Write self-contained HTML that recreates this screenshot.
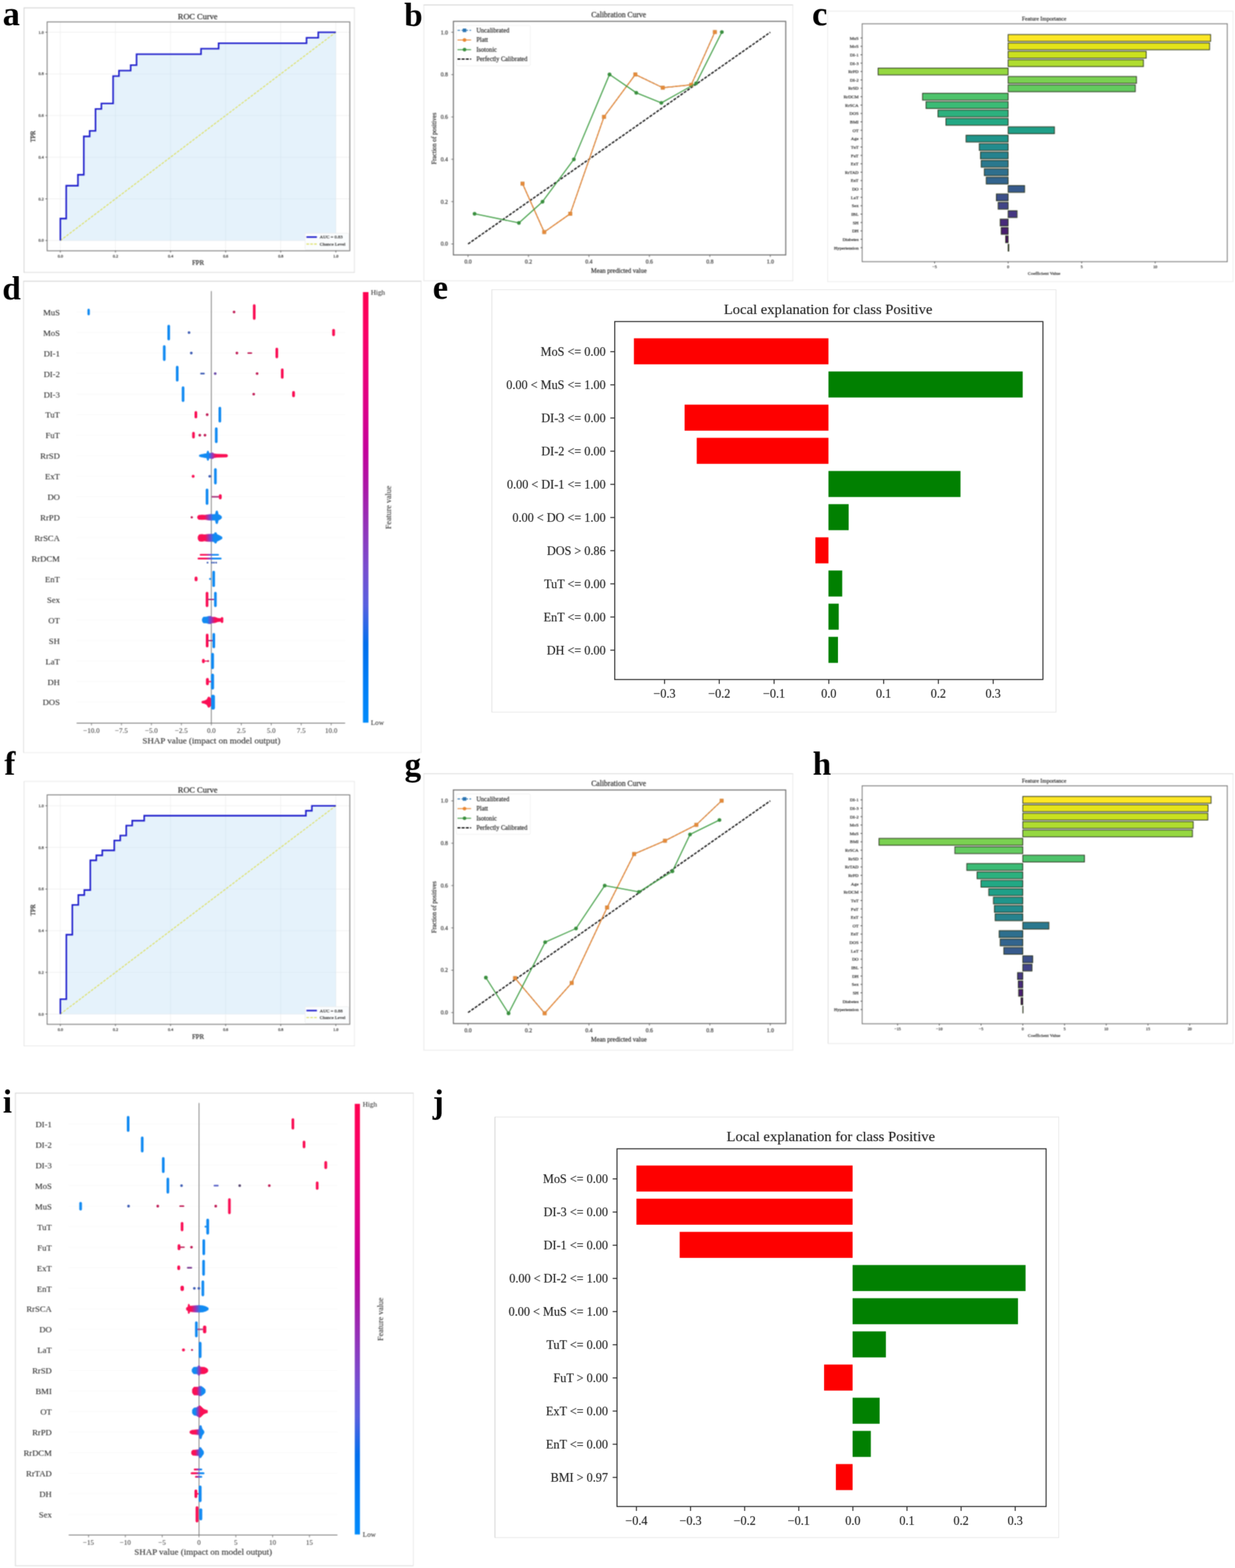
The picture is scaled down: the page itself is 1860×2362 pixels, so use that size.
<!DOCTYPE html>
<html lang="en"><head><meta charset="utf-8"><title>Figure</title>
<style>
html,body{margin:0;padding:0;background:#fff;}
body{width:1860px;height:2362px;overflow:hidden;}
svg{display:block;font-family:"Liberation Serif","DejaVu Serif",serif;}
.h text{paint-order:stroke;stroke-linejoin:round;}
.h1 text{stroke:#444;stroke-opacity:.45;stroke-width:.55px;}
.h3 text{stroke:#555;stroke-opacity:.35;stroke-width:.25px;}
.h2 text{stroke:#222;stroke-opacity:.35;stroke-width:.5px;}
</style></head><body>
<svg width="1860" height="2362" viewBox="0 0 1860 2362">
<defs>
<linearGradient id="cb" x1="0" y1="0" x2="0" y2="1">
<stop offset="0.000" stop-color="#ff0051"/> <stop offset="0.091" stop-color="#fa0065"/> <stop offset="0.182" stop-color="#ec0078"/> <stop offset="0.273" stop-color="#db008a"/> <stop offset="0.364" stop-color="#c5009a"/> <stop offset="0.455" stop-color="#aa17a7"/> <stop offset="0.545" stop-color="#9233b9"/> <stop offset="0.636" stop-color="#794cce"/> <stop offset="0.727" stop-color="#575fdf"/> <stop offset="0.818" stop-color="#006fed"/> <stop offset="0.909" stop-color="#007ef6"/> <stop offset="1.000" stop-color="#008bfb"/>
</linearGradient>
<linearGradient id="br" x1="0" y1="0" x2="1" y2="0"><stop offset="0" stop-color="#118af2"/><stop offset="0.38" stop-color="#118af2"/><stop offset="0.52" stop-color="#9233b9"/><stop offset="0.66" stop-color="#fa0f55"/><stop offset="1" stop-color="#fa0f55"/></linearGradient>
<linearGradient id="rb" x1="0" y1="0" x2="1" y2="0"><stop offset="0" stop-color="#fa0f55"/><stop offset="0.38" stop-color="#fa0f55"/><stop offset="0.52" stop-color="#9233b9"/><stop offset="0.66" stop-color="#118af2"/><stop offset="1" stop-color="#118af2"/></linearGradient>
<linearGradient id="rr" x1="0" y1="0" x2="1" y2="0"><stop offset="0" stop-color="#fa0f55"/><stop offset="1" stop-color="#fa0f55"/></linearGradient>
<filter id="cv" filterUnits="userSpaceOnUse" x="0" y="0" width="1860" height="2362" color-interpolation-filters="sRGB"><feConvolveMatrix order="3" kernelMatrix="1 2 1 2 4 2 1 2 1" divisor="16" edgeMode="duplicate" preserveAlpha="true"/></filter>
<filter id="cl" filterUnits="userSpaceOnUse" x="0" y="0" width="1860" height="2362" color-interpolation-filters="sRGB"><feConvolveMatrix order="3" kernelMatrix="0 1 0 1 6 1 0 1 0" divisor="10" edgeMode="duplicate" preserveAlpha="false"/></filter>
</defs>
<rect x="0" y="0" width="1860" height="2362" fill="#ffffff"/>
<g filter="url(#cv)"><rect x="0" y="0" width="1860" height="2362" fill="#ffffff"/>
<g class="h h1">
<rect x="36.2" y="11.9" width="497.6" height="398.4" fill="#fff" stroke="none" stroke-width="1" />
<line x1="35.7" y1="11.9" x2="534.3" y2="11.9" stroke="#c4c4c4" stroke-width="1" />
<line x1="35.7" y1="410.3" x2="534.3" y2="410.3" stroke="#d6d6d6" stroke-width="1" />
<line x1="36.2" y1="11.9" x2="36.2" y2="410.3" stroke="#c8c8c8" stroke-width="1" />
<line x1="533.8" y1="11.9" x2="533.8" y2="410.3" stroke="#dddddd" stroke-width="1" />
<line x1="90.9" y1="33" x2="90.9" y2="377.8" stroke="#efefef" stroke-width="1" />
<line x1="71" y1="362.3" x2="526.8" y2="362.3" stroke="#efefef" stroke-width="1" />
<line x1="173.88" y1="33" x2="173.88" y2="377.8" stroke="#efefef" stroke-width="1" />
<line x1="71" y1="299.56" x2="526.8" y2="299.56" stroke="#efefef" stroke-width="1" />
<line x1="256.86" y1="33" x2="256.86" y2="377.8" stroke="#efefef" stroke-width="1" />
<line x1="71" y1="236.82" x2="526.8" y2="236.82" stroke="#efefef" stroke-width="1" />
<line x1="339.84" y1="33" x2="339.84" y2="377.8" stroke="#efefef" stroke-width="1" />
<line x1="71" y1="174.08" x2="526.8" y2="174.08" stroke="#efefef" stroke-width="1" />
<line x1="422.82" y1="33" x2="422.82" y2="377.8" stroke="#efefef" stroke-width="1" />
<line x1="71" y1="111.34" x2="526.8" y2="111.34" stroke="#efefef" stroke-width="1" />
<line x1="505.8" y1="33" x2="505.8" y2="377.8" stroke="#efefef" stroke-width="1" />
<line x1="71" y1="48.6" x2="526.8" y2="48.6" stroke="#efefef" stroke-width="1" />
<clipPath id="cp_a"><polygon points="90.9,362.3 90.9,329.28 99.73,329.28 99.73,279.75 117.38,279.75 117.38,263.24 126.21,263.24 126.21,205.45 135.04,205.45 135.04,197.19 143.87,197.19 143.87,164.17 152.69,164.17 152.69,155.92 170.35,155.92 170.35,114.64 179.18,114.64 179.18,106.39 196.83,106.39 196.83,98.13 205.66,98.13 205.66,81.62 302.76,81.62 302.76,73.37 329.25,73.37 329.25,65.11 461.66,65.11 461.66,56.86 479.32,56.86 479.32,48.6 505.8,48.6 505.8,362.3 90.9,362.3"/></clipPath>
<polygon points="90.9,362.3 90.9,329.28 99.73,329.28 99.73,279.75 117.38,279.75 117.38,263.24 126.21,263.24 126.21,205.45 135.04,205.45 135.04,197.19 143.87,197.19 143.87,164.17 152.69,164.17 152.69,155.92 170.35,155.92 170.35,114.64 179.18,114.64 179.18,106.39 196.83,106.39 196.83,98.13 205.66,98.13 205.66,81.62 302.76,81.62 302.76,73.37 329.25,73.37 329.25,65.11 461.66,65.11 461.66,56.86 479.32,56.86 479.32,48.6 505.8,48.6 505.8,362.3 90.9,362.3" fill="#e5f2fb"/>
<g clip-path="url(#cp_a)">
<line x1="90.9" y1="362.3" x2="90.9" y2="48.6" stroke="#d6e5ef" stroke-width="1" opacity="0.75"/>
<line x1="90.9" y1="362.3" x2="505.8" y2="362.3" stroke="#d6e5ef" stroke-width="1" opacity="0.6"/>
<line x1="173.88" y1="362.3" x2="173.88" y2="48.6" stroke="#d6e5ef" stroke-width="1" opacity="0.75"/>
<line x1="90.9" y1="299.56" x2="505.8" y2="299.56" stroke="#d6e5ef" stroke-width="1" opacity="0.6"/>
<line x1="256.86" y1="362.3" x2="256.86" y2="48.6" stroke="#d6e5ef" stroke-width="1" opacity="0.75"/>
<line x1="90.9" y1="236.82" x2="505.8" y2="236.82" stroke="#d6e5ef" stroke-width="1" opacity="0.6"/>
<line x1="339.84" y1="362.3" x2="339.84" y2="48.6" stroke="#d6e5ef" stroke-width="1" opacity="0.75"/>
<line x1="90.9" y1="174.08" x2="505.8" y2="174.08" stroke="#d6e5ef" stroke-width="1" opacity="0.6"/>
<line x1="422.82" y1="362.3" x2="422.82" y2="48.6" stroke="#d6e5ef" stroke-width="1" opacity="0.75"/>
<line x1="90.9" y1="111.34" x2="505.8" y2="111.34" stroke="#d6e5ef" stroke-width="1" opacity="0.6"/>
<line x1="505.8" y1="362.3" x2="505.8" y2="48.6" stroke="#d6e5ef" stroke-width="1" opacity="0.75"/>
<line x1="90.9" y1="48.6" x2="505.8" y2="48.6" stroke="#d6e5ef" stroke-width="1" opacity="0.6"/>
</g>
<line x1="90.9" y1="362.3" x2="505.8" y2="48.6" stroke="#dde068" stroke-width="1.55" stroke-dasharray="4 1.8"/>
<polyline points="90.9,362.3 90.9,329.28 99.73,329.28 99.73,279.75 117.38,279.75 117.38,263.24 126.21,263.24 126.21,205.45 135.04,205.45 135.04,197.19 143.87,197.19 143.87,164.17 152.69,164.17 152.69,155.92 170.35,155.92 170.35,114.64 179.18,114.64 179.18,106.39 196.83,106.39 196.83,98.13 205.66,98.13 205.66,81.62 302.76,81.62 302.76,73.37 329.25,73.37 329.25,65.11 461.66,65.11 461.66,56.86 479.32,56.86 479.32,48.6 505.8,48.6" fill="none" stroke="#2020cc" stroke-width="2.35" stroke-linejoin="miter"/>
<rect x="71" y="33" width="455.8" height="344.8" fill="none" stroke="#747474" stroke-width="1.25" />
<line x1="90.9" y1="377.8" x2="90.9" y2="380.4" stroke="#555" stroke-width="1" />
<line x1="68.4" y1="362.3" x2="71" y2="362.3" stroke="#555" stroke-width="1" />
<text x="90.9" y="387.7" font-size="6.3" text-anchor="middle" fill="#303030" >0.0</text>
<text x="65.8" y="364.4" font-size="6.3" text-anchor="end" fill="#303030" >0.0</text>
<line x1="173.88" y1="377.8" x2="173.88" y2="380.4" stroke="#555" stroke-width="1" />
<line x1="68.4" y1="299.56" x2="71" y2="299.56" stroke="#555" stroke-width="1" />
<text x="173.88" y="387.7" font-size="6.3" text-anchor="middle" fill="#303030" >0.2</text>
<text x="65.8" y="301.66" font-size="6.3" text-anchor="end" fill="#303030" >0.2</text>
<line x1="256.86" y1="377.8" x2="256.86" y2="380.4" stroke="#555" stroke-width="1" />
<line x1="68.4" y1="236.82" x2="71" y2="236.82" stroke="#555" stroke-width="1" />
<text x="256.86" y="387.7" font-size="6.3" text-anchor="middle" fill="#303030" >0.4</text>
<text x="65.8" y="238.92" font-size="6.3" text-anchor="end" fill="#303030" >0.4</text>
<line x1="339.84" y1="377.8" x2="339.84" y2="380.4" stroke="#555" stroke-width="1" />
<line x1="68.4" y1="174.08" x2="71" y2="174.08" stroke="#555" stroke-width="1" />
<text x="339.84" y="387.7" font-size="6.3" text-anchor="middle" fill="#303030" >0.6</text>
<text x="65.8" y="176.18" font-size="6.3" text-anchor="end" fill="#303030" >0.6</text>
<line x1="422.82" y1="377.8" x2="422.82" y2="380.4" stroke="#555" stroke-width="1" />
<line x1="68.4" y1="111.34" x2="71" y2="111.34" stroke="#555" stroke-width="1" />
<text x="422.82" y="387.7" font-size="6.3" text-anchor="middle" fill="#303030" >0.8</text>
<text x="65.8" y="113.44" font-size="6.3" text-anchor="end" fill="#303030" >0.8</text>
<line x1="505.8" y1="377.8" x2="505.8" y2="380.4" stroke="#555" stroke-width="1" />
<line x1="68.4" y1="48.6" x2="71" y2="48.6" stroke="#555" stroke-width="1" />
<text x="505.8" y="387.7" font-size="6.3" text-anchor="middle" fill="#303030" >1.0</text>
<text x="65.8" y="50.7" font-size="6.3" text-anchor="end" fill="#303030" >1.0</text>
<text x="297.7" y="28.9" font-size="12.6" text-anchor="middle" fill="#262626" >ROC Curve</text>
<text x="298.2" y="399.3" font-size="10.2" text-anchor="middle" fill="#222" >FPR</text>
<text x="0" y="0" font-size="9.54" text-anchor="middle" fill="#222" transform="translate(52.75 205.6) rotate(-90)">TPR</text>
<rect x="459.5" y="351.3" width="65.7" height="24.9" fill="#fbfdfe" stroke="#ebebeb" stroke-width="0.8" rx="1.5"/>
<line x1="461.5" y1="357.1" x2="477.3" y2="357.1" stroke="#2020cc" stroke-width="2.35" />
<line x1="461.5" y1="367.6" x2="477.3" y2="367.6" stroke="#dde068" stroke-width="1.55" stroke-dasharray="4 1.8"/>
<text x="481.6" y="359.4" font-size="7" text-anchor="start" fill="#303030" >AUC = 0.83</text>
<text x="481.6" y="369.9" font-size="7" text-anchor="start" fill="#303030" >Chance Level</text>
</g>
<g class="h h1">
<rect x="36.2" y="1177.1" width="497.6" height="398.4" fill="#fff" stroke="none" stroke-width="1" />
<line x1="35.7" y1="1177.1" x2="534.3" y2="1177.1" stroke="#e5e5e5" stroke-width="1" />
<line x1="35.7" y1="1575.5" x2="534.3" y2="1575.5" stroke="#e5e5e5" stroke-width="1" />
<line x1="36.2" y1="1177.1" x2="36.2" y2="1575.5" stroke="#dddddd" stroke-width="1" />
<line x1="533.8" y1="1177.1" x2="533.8" y2="1575.5" stroke="#e5e5e5" stroke-width="1" />
<line x1="90.9" y1="1197.4" x2="90.9" y2="1543" stroke="#efefef" stroke-width="1" />
<line x1="71" y1="1527.5" x2="526.8" y2="1527.5" stroke="#efefef" stroke-width="1" />
<line x1="173.88" y1="1197.4" x2="173.88" y2="1543" stroke="#efefef" stroke-width="1" />
<line x1="71" y1="1464.76" x2="526.8" y2="1464.76" stroke="#efefef" stroke-width="1" />
<line x1="256.86" y1="1197.4" x2="256.86" y2="1543" stroke="#efefef" stroke-width="1" />
<line x1="71" y1="1402.02" x2="526.8" y2="1402.02" stroke="#efefef" stroke-width="1" />
<line x1="339.84" y1="1197.4" x2="339.84" y2="1543" stroke="#efefef" stroke-width="1" />
<line x1="71" y1="1339.28" x2="526.8" y2="1339.28" stroke="#efefef" stroke-width="1" />
<line x1="422.82" y1="1197.4" x2="422.82" y2="1543" stroke="#efefef" stroke-width="1" />
<line x1="71" y1="1276.54" x2="526.8" y2="1276.54" stroke="#efefef" stroke-width="1" />
<line x1="505.8" y1="1197.4" x2="505.8" y2="1543" stroke="#efefef" stroke-width="1" />
<line x1="71" y1="1213.8" x2="526.8" y2="1213.8" stroke="#efefef" stroke-width="1" />
<clipPath id="cp_f"><polygon points="90.9,1527.5 90.9,1505.09 99.92,1505.09 99.92,1408 108.94,1408 108.94,1363.18 117.96,1363.18 117.96,1348.24 126.98,1348.24 126.98,1340.77 136,1340.77 136,1295.96 145.02,1295.96 145.02,1288.49 154.04,1288.49 154.04,1281.02 172.08,1281.02 172.08,1266.08 181.1,1266.08 181.1,1258.61 190.12,1258.61 190.12,1243.68 199.13,1243.68 199.13,1236.21 217.17,1236.21 217.17,1228.74 460.7,1228.74 460.7,1221.27 469.72,1221.27 469.72,1213.8 505.8,1213.8 505.8,1527.5 90.9,1527.5"/></clipPath>
<polygon points="90.9,1527.5 90.9,1505.09 99.92,1505.09 99.92,1408 108.94,1408 108.94,1363.18 117.96,1363.18 117.96,1348.24 126.98,1348.24 126.98,1340.77 136,1340.77 136,1295.96 145.02,1295.96 145.02,1288.49 154.04,1288.49 154.04,1281.02 172.08,1281.02 172.08,1266.08 181.1,1266.08 181.1,1258.61 190.12,1258.61 190.12,1243.68 199.13,1243.68 199.13,1236.21 217.17,1236.21 217.17,1228.74 460.7,1228.74 460.7,1221.27 469.72,1221.27 469.72,1213.8 505.8,1213.8 505.8,1527.5 90.9,1527.5" fill="#e5f2fb"/>
<g clip-path="url(#cp_f)">
<line x1="90.9" y1="1527.5" x2="90.9" y2="1213.8" stroke="#d6e5ef" stroke-width="1" opacity="0.75"/>
<line x1="90.9" y1="1527.5" x2="505.8" y2="1527.5" stroke="#d6e5ef" stroke-width="1" opacity="0.6"/>
<line x1="173.88" y1="1527.5" x2="173.88" y2="1213.8" stroke="#d6e5ef" stroke-width="1" opacity="0.75"/>
<line x1="90.9" y1="1464.76" x2="505.8" y2="1464.76" stroke="#d6e5ef" stroke-width="1" opacity="0.6"/>
<line x1="256.86" y1="1527.5" x2="256.86" y2="1213.8" stroke="#d6e5ef" stroke-width="1" opacity="0.75"/>
<line x1="90.9" y1="1402.02" x2="505.8" y2="1402.02" stroke="#d6e5ef" stroke-width="1" opacity="0.6"/>
<line x1="339.84" y1="1527.5" x2="339.84" y2="1213.8" stroke="#d6e5ef" stroke-width="1" opacity="0.75"/>
<line x1="90.9" y1="1339.28" x2="505.8" y2="1339.28" stroke="#d6e5ef" stroke-width="1" opacity="0.6"/>
<line x1="422.82" y1="1527.5" x2="422.82" y2="1213.8" stroke="#d6e5ef" stroke-width="1" opacity="0.75"/>
<line x1="90.9" y1="1276.54" x2="505.8" y2="1276.54" stroke="#d6e5ef" stroke-width="1" opacity="0.6"/>
<line x1="505.8" y1="1527.5" x2="505.8" y2="1213.8" stroke="#d6e5ef" stroke-width="1" opacity="0.75"/>
<line x1="90.9" y1="1213.8" x2="505.8" y2="1213.8" stroke="#d6e5ef" stroke-width="1" opacity="0.6"/>
</g>
<line x1="90.9" y1="1527.5" x2="505.8" y2="1213.8" stroke="#dde068" stroke-width="1.55" stroke-dasharray="4 1.8"/>
<polyline points="90.9,1527.5 90.9,1505.09 99.92,1505.09 99.92,1408 108.94,1408 108.94,1363.18 117.96,1363.18 117.96,1348.24 126.98,1348.24 126.98,1340.77 136,1340.77 136,1295.96 145.02,1295.96 145.02,1288.49 154.04,1288.49 154.04,1281.02 172.08,1281.02 172.08,1266.08 181.1,1266.08 181.1,1258.61 190.12,1258.61 190.12,1243.68 199.13,1243.68 199.13,1236.21 217.17,1236.21 217.17,1228.74 460.7,1228.74 460.7,1221.27 469.72,1221.27 469.72,1213.8 505.8,1213.8" fill="none" stroke="#2020cc" stroke-width="2.35" stroke-linejoin="miter"/>
<rect x="71" y="1197.4" width="455.8" height="345.6" fill="none" stroke="#747474" stroke-width="1.25" />
<line x1="90.9" y1="1543" x2="90.9" y2="1545.6" stroke="#555" stroke-width="1" />
<line x1="68.4" y1="1527.5" x2="71" y2="1527.5" stroke="#555" stroke-width="1" />
<text x="90.9" y="1552.9" font-size="6.3" text-anchor="middle" fill="#303030" >0.0</text>
<text x="65.8" y="1529.6" font-size="6.3" text-anchor="end" fill="#303030" >0.0</text>
<line x1="173.88" y1="1543" x2="173.88" y2="1545.6" stroke="#555" stroke-width="1" />
<line x1="68.4" y1="1464.76" x2="71" y2="1464.76" stroke="#555" stroke-width="1" />
<text x="173.88" y="1552.9" font-size="6.3" text-anchor="middle" fill="#303030" >0.2</text>
<text x="65.8" y="1466.86" font-size="6.3" text-anchor="end" fill="#303030" >0.2</text>
<line x1="256.86" y1="1543" x2="256.86" y2="1545.6" stroke="#555" stroke-width="1" />
<line x1="68.4" y1="1402.02" x2="71" y2="1402.02" stroke="#555" stroke-width="1" />
<text x="256.86" y="1552.9" font-size="6.3" text-anchor="middle" fill="#303030" >0.4</text>
<text x="65.8" y="1404.12" font-size="6.3" text-anchor="end" fill="#303030" >0.4</text>
<line x1="339.84" y1="1543" x2="339.84" y2="1545.6" stroke="#555" stroke-width="1" />
<line x1="68.4" y1="1339.28" x2="71" y2="1339.28" stroke="#555" stroke-width="1" />
<text x="339.84" y="1552.9" font-size="6.3" text-anchor="middle" fill="#303030" >0.6</text>
<text x="65.8" y="1341.38" font-size="6.3" text-anchor="end" fill="#303030" >0.6</text>
<line x1="422.82" y1="1543" x2="422.82" y2="1545.6" stroke="#555" stroke-width="1" />
<line x1="68.4" y1="1276.54" x2="71" y2="1276.54" stroke="#555" stroke-width="1" />
<text x="422.82" y="1552.9" font-size="6.3" text-anchor="middle" fill="#303030" >0.8</text>
<text x="65.8" y="1278.64" font-size="6.3" text-anchor="end" fill="#303030" >0.8</text>
<line x1="505.8" y1="1543" x2="505.8" y2="1545.6" stroke="#555" stroke-width="1" />
<line x1="68.4" y1="1213.8" x2="71" y2="1213.8" stroke="#555" stroke-width="1" />
<text x="505.8" y="1552.9" font-size="6.3" text-anchor="middle" fill="#303030" >1.0</text>
<text x="65.8" y="1215.9" font-size="6.3" text-anchor="end" fill="#303030" >1.0</text>
<text x="297.7" y="1194.1" font-size="12.6" text-anchor="middle" fill="#262626" >ROC Curve</text>
<text x="298.2" y="1564.5" font-size="10.2" text-anchor="middle" fill="#222" >FPR</text>
<text x="0" y="0" font-size="9.54" text-anchor="middle" fill="#222" transform="translate(52.75 1370.8) rotate(-90)">TPR</text>
<rect x="459.5" y="1516.5" width="65.7" height="24.9" fill="#fbfdfe" stroke="#ebebeb" stroke-width="0.8" rx="1.5"/>
<line x1="461.5" y1="1522.3" x2="477.3" y2="1522.3" stroke="#2020cc" stroke-width="2.35" />
<line x1="461.5" y1="1532.8" x2="477.3" y2="1532.8" stroke="#dde068" stroke-width="1.55" stroke-dasharray="4 1.8"/>
<text x="481.6" y="1524.6" font-size="7" text-anchor="start" fill="#303030" >AUC = 0.88</text>
<text x="481.6" y="1535.1" font-size="7" text-anchor="start" fill="#303030" >Chance Level</text>
</g>
<g class="h h1">
<rect x="638.3" y="7.4" width="555.7" height="415.6" fill="#fff" stroke="none" stroke-width="1" />
<line x1="637.8" y1="7.4" x2="1194.5" y2="7.4" stroke="#c5c5c5" stroke-width="1" />
<line x1="637.8" y1="423" x2="1194.5" y2="423" stroke="#e3e3e3" stroke-width="1" />
<line x1="638.3" y1="7.4" x2="638.3" y2="423" stroke="#e3e3e3" stroke-width="1" />
<line x1="1194" y1="7.4" x2="1194" y2="423" stroke="#e3e3e3" stroke-width="1" />
<rect x="682.8" y="32.2" width="500.6" height="351.8" fill="#fff" stroke="#6c6c6c" stroke-width="1.5" />
<line x1="704.9" y1="384" x2="704.9" y2="387.2" stroke="#555" stroke-width="0.9" />
<line x1="679.6" y1="367.5" x2="682.8" y2="367.5" stroke="#555" stroke-width="0.9" />
<text x="704.9" y="396.8" font-size="8.7" text-anchor="middle" fill="#333" >0.0</text>
<text x="674.6" y="370.4" font-size="8.7" text-anchor="end" fill="#333" >0.0</text>
<line x1="795.94" y1="384" x2="795.94" y2="387.2" stroke="#555" stroke-width="0.9" />
<line x1="679.6" y1="303.72" x2="682.8" y2="303.72" stroke="#555" stroke-width="0.9" />
<text x="795.94" y="396.8" font-size="8.7" text-anchor="middle" fill="#333" >0.2</text>
<text x="674.6" y="306.62" font-size="8.7" text-anchor="end" fill="#333" >0.2</text>
<line x1="886.98" y1="384" x2="886.98" y2="387.2" stroke="#555" stroke-width="0.9" />
<line x1="679.6" y1="239.94" x2="682.8" y2="239.94" stroke="#555" stroke-width="0.9" />
<text x="886.98" y="396.8" font-size="8.7" text-anchor="middle" fill="#333" >0.4</text>
<text x="674.6" y="242.84" font-size="8.7" text-anchor="end" fill="#333" >0.4</text>
<line x1="978.02" y1="384" x2="978.02" y2="387.2" stroke="#555" stroke-width="0.9" />
<line x1="679.6" y1="176.16" x2="682.8" y2="176.16" stroke="#555" stroke-width="0.9" />
<text x="978.02" y="396.8" font-size="8.7" text-anchor="middle" fill="#333" >0.6</text>
<text x="674.6" y="179.06" font-size="8.7" text-anchor="end" fill="#333" >0.6</text>
<line x1="1069.06" y1="384" x2="1069.06" y2="387.2" stroke="#555" stroke-width="0.9" />
<line x1="679.6" y1="112.38" x2="682.8" y2="112.38" stroke="#555" stroke-width="0.9" />
<text x="1069.06" y="396.8" font-size="8.7" text-anchor="middle" fill="#333" >0.8</text>
<text x="674.6" y="115.28" font-size="8.7" text-anchor="end" fill="#333" >0.8</text>
<line x1="1160.1" y1="384" x2="1160.1" y2="387.2" stroke="#555" stroke-width="0.9" />
<line x1="679.6" y1="48.6" x2="682.8" y2="48.6" stroke="#555" stroke-width="0.9" />
<text x="1160.1" y="396.8" font-size="8.7" text-anchor="middle" fill="#333" >1.0</text>
<text x="674.6" y="51.5" font-size="8.7" text-anchor="end" fill="#333" >1.0</text>
<line x1="704.9" y1="367.5" x2="1160.1" y2="48.6" stroke="#1a1a1a" stroke-width="2" stroke-dasharray="4.4 1.9"/>
<polyline points="786.95,276.61 819.62,349.57 858.82,321.98 909.64,176.06 956.83,112.17 998.21,132.13 1041.05,127.78 1076.62,48.28" fill="none" stroke="#2a74b2" stroke-width="1.3" stroke-dasharray="4 2"/>
<polyline points="786.95,276.61 819.62,349.57 858.82,321.98 909.64,176.06 956.83,112.17 998.21,132.13 1041.05,127.78 1076.62,48.28" fill="none" stroke="#ea8630" stroke-width="1.6" stroke-linejoin="round"/>
<rect x="783.95" y="273.61" width="6" height="6" fill="#cf8d48" stroke="none" stroke-width="1" />
<circle cx="786.95" cy="276.61" r="2.7" fill="#e58a3a" />
<rect x="816.62" y="346.57" width="6" height="6" fill="#cf8d48" stroke="none" stroke-width="1" />
<circle cx="819.62" cy="349.57" r="2.7" fill="#e58a3a" />
<rect x="855.82" y="318.98" width="6" height="6" fill="#cf8d48" stroke="none" stroke-width="1" />
<circle cx="858.82" cy="321.98" r="2.7" fill="#e58a3a" />
<rect x="906.64" y="173.06" width="6" height="6" fill="#cf8d48" stroke="none" stroke-width="1" />
<circle cx="909.64" cy="176.06" r="2.7" fill="#e58a3a" />
<rect x="953.83" y="109.17" width="6" height="6" fill="#cf8d48" stroke="none" stroke-width="1" />
<circle cx="956.83" cy="112.17" r="2.7" fill="#e58a3a" />
<rect x="995.21" y="129.13" width="6" height="6" fill="#cf8d48" stroke="none" stroke-width="1" />
<circle cx="998.21" cy="132.13" r="2.7" fill="#e58a3a" />
<rect x="1038.05" y="124.78" width="6" height="6" fill="#cf8d48" stroke="none" stroke-width="1" />
<circle cx="1041.05" cy="127.78" r="2.7" fill="#e58a3a" />
<rect x="1073.62" y="45.28" width="6" height="6" fill="#cf8d48" stroke="none" stroke-width="1" />
<circle cx="1076.62" cy="48.28" r="2.7" fill="#e58a3a" />
<polyline points="714.71,321.98 781.5,335.78 817.08,303.83 864.27,239.94 917.99,112.17 958.28,139.76 996.04,155 1048.31,125.6 1087.15,48.28" fill="none" stroke="#3c9c40" stroke-width="1.6" stroke-linejoin="round"/>
<circle cx="714.71" cy="321.98" r="2.8" fill="#3a8f3f" />
<circle cx="781.5" cy="335.78" r="2.8" fill="#3a8f3f" />
<circle cx="817.08" cy="303.83" r="2.8" fill="#3a8f3f" />
<circle cx="864.27" cy="239.94" r="2.8" fill="#3a8f3f" />
<circle cx="917.99" cy="112.17" r="2.8" fill="#3a8f3f" />
<circle cx="958.28" cy="139.76" r="2.8" fill="#3a8f3f" />
<circle cx="996.04" cy="155" r="2.8" fill="#3a8f3f" />
<circle cx="1048.31" cy="125.6" r="2.8" fill="#3a8f3f" />
<circle cx="1087.15" cy="48.28" r="2.8" fill="#3a8f3f" />
<rect x="687.1" y="38.3" width="111.7" height="60.7" fill="#fff" stroke="#eeeeee" stroke-width="0.9" rx="2"/>
<line x1="689" y1="45.7" x2="709.5" y2="45.7" stroke="#2a74b2" stroke-width="1.3" stroke-dasharray="4 2"/>
<rect x="696.9" y="43" width="5.4" height="5.4" fill="#2a74b2" stroke="none" stroke-width="1" />
<line x1="689" y1="60.3" x2="709.5" y2="60.3" stroke="#ea8630" stroke-width="1.4" />
<circle cx="699.6" cy="60.3" r="2.7" fill="#ea8630" />
<line x1="689" y1="74.8" x2="709.5" y2="74.8" stroke="#3c9c40" stroke-width="1.4" />
<circle cx="699.6" cy="74.8" r="2.7" fill="#3a8f3f" />
<line x1="689" y1="89.1" x2="709.5" y2="89.1" stroke="#1a1a1a" stroke-width="2" stroke-dasharray="4.4 1.9"/>
<text x="717.4" y="48.7" font-size="9.6" text-anchor="start" fill="#2a2a2a" >Uncalibrated</text>
<text x="717.4" y="63.3" font-size="9.6" text-anchor="start" fill="#2a2a2a" >Platt</text>
<text x="717.4" y="77.8" font-size="9.6" text-anchor="start" fill="#2a2a2a" >Isotonic</text>
<text x="717.4" y="92.1" font-size="9.6" text-anchor="start" fill="#2a2a2a" >Perfectly Calibrated</text>
<text x="931.8" y="26.3" font-size="11.5" text-anchor="middle" fill="#2a2a2a" >Calibration Curve</text>
<text x="932" y="411.4" font-size="9.7" text-anchor="middle" fill="#2a2a2a" >Mean predicted value</text>
<text x="0" y="0" font-size="9.49" text-anchor="middle" fill="#2a2a2a" transform="translate(656.53 208.6) rotate(-90)">Fraction of positives</text>
</g>
<g class="h h1">
<rect x="638.3" y="1165.5" width="555.7" height="416.5" fill="#fff" stroke="none" stroke-width="1" />
<line x1="637.8" y1="1165.5" x2="1194.5" y2="1165.5" stroke="#d3d3d3" stroke-width="1" />
<line x1="637.8" y1="1582" x2="1194.5" y2="1582" stroke="#e5e5e5" stroke-width="1" />
<line x1="638.3" y1="1165.5" x2="638.3" y2="1582" stroke="#e3e3e3" stroke-width="1" />
<line x1="1194" y1="1165.5" x2="1194" y2="1582" stroke="#e5e5e5" stroke-width="1" />
<rect x="682.8" y="1190" width="500.6" height="351.8" fill="#fff" stroke="#6c6c6c" stroke-width="1.5" />
<line x1="704.9" y1="1541.8" x2="704.9" y2="1545" stroke="#555" stroke-width="0.9" />
<line x1="679.6" y1="1525.3" x2="682.8" y2="1525.3" stroke="#555" stroke-width="0.9" />
<text x="704.9" y="1554.6" font-size="8.7" text-anchor="middle" fill="#333" >0.0</text>
<text x="674.6" y="1528.2" font-size="8.7" text-anchor="end" fill="#333" >0.0</text>
<line x1="795.94" y1="1541.8" x2="795.94" y2="1545" stroke="#555" stroke-width="0.9" />
<line x1="679.6" y1="1461.52" x2="682.8" y2="1461.52" stroke="#555" stroke-width="0.9" />
<text x="795.94" y="1554.6" font-size="8.7" text-anchor="middle" fill="#333" >0.2</text>
<text x="674.6" y="1464.42" font-size="8.7" text-anchor="end" fill="#333" >0.2</text>
<line x1="886.98" y1="1541.8" x2="886.98" y2="1545" stroke="#555" stroke-width="0.9" />
<line x1="679.6" y1="1397.74" x2="682.8" y2="1397.74" stroke="#555" stroke-width="0.9" />
<text x="886.98" y="1554.6" font-size="8.7" text-anchor="middle" fill="#333" >0.4</text>
<text x="674.6" y="1400.64" font-size="8.7" text-anchor="end" fill="#333" >0.4</text>
<line x1="978.02" y1="1541.8" x2="978.02" y2="1545" stroke="#555" stroke-width="0.9" />
<line x1="679.6" y1="1333.96" x2="682.8" y2="1333.96" stroke="#555" stroke-width="0.9" />
<text x="978.02" y="1554.6" font-size="8.7" text-anchor="middle" fill="#333" >0.6</text>
<text x="674.6" y="1336.86" font-size="8.7" text-anchor="end" fill="#333" >0.6</text>
<line x1="1069.06" y1="1541.8" x2="1069.06" y2="1545" stroke="#555" stroke-width="0.9" />
<line x1="679.6" y1="1270.18" x2="682.8" y2="1270.18" stroke="#555" stroke-width="0.9" />
<text x="1069.06" y="1554.6" font-size="8.7" text-anchor="middle" fill="#333" >0.8</text>
<text x="674.6" y="1273.08" font-size="8.7" text-anchor="end" fill="#333" >0.8</text>
<line x1="1160.1" y1="1541.8" x2="1160.1" y2="1545" stroke="#555" stroke-width="0.9" />
<line x1="679.6" y1="1206.4" x2="682.8" y2="1206.4" stroke="#555" stroke-width="0.9" />
<text x="1160.1" y="1554.6" font-size="8.7" text-anchor="middle" fill="#333" >1.0</text>
<text x="674.6" y="1209.3" font-size="8.7" text-anchor="end" fill="#333" >1.0</text>
<line x1="704.9" y1="1525.3" x2="1160.1" y2="1206.4" stroke="#1a1a1a" stroke-width="2" stroke-dasharray="4.4 1.9"/>
<polyline points="775.69,1473.4 820.34,1526.4 861,1480.66 914.36,1367.04 955.02,1286.45 1001.48,1266.49 1048.67,1242.53 1086.79,1206.23" fill="none" stroke="#2a74b2" stroke-width="1.3" stroke-dasharray="4 2"/>
<polyline points="775.69,1473.4 820.34,1526.4 861,1480.66 914.36,1367.04 955.02,1286.45 1001.48,1266.49 1048.67,1242.53 1086.79,1206.23" fill="none" stroke="#ea8630" stroke-width="1.6" stroke-linejoin="round"/>
<rect x="772.69" y="1470.4" width="6" height="6" fill="#cf8d48" stroke="none" stroke-width="1" />
<circle cx="775.69" cy="1473.4" r="2.7" fill="#e58a3a" />
<rect x="817.34" y="1523.4" width="6" height="6" fill="#cf8d48" stroke="none" stroke-width="1" />
<circle cx="820.34" cy="1526.4" r="2.7" fill="#e58a3a" />
<rect x="858" y="1477.66" width="6" height="6" fill="#cf8d48" stroke="none" stroke-width="1" />
<circle cx="861" cy="1480.66" r="2.7" fill="#e58a3a" />
<rect x="911.36" y="1364.04" width="6" height="6" fill="#cf8d48" stroke="none" stroke-width="1" />
<circle cx="914.36" cy="1367.04" r="2.7" fill="#e58a3a" />
<rect x="952.02" y="1283.45" width="6" height="6" fill="#cf8d48" stroke="none" stroke-width="1" />
<circle cx="955.02" cy="1286.45" r="2.7" fill="#e58a3a" />
<rect x="998.48" y="1263.49" width="6" height="6" fill="#cf8d48" stroke="none" stroke-width="1" />
<circle cx="1001.48" cy="1266.49" r="2.7" fill="#e58a3a" />
<rect x="1045.67" y="1239.53" width="6" height="6" fill="#cf8d48" stroke="none" stroke-width="1" />
<circle cx="1048.67" cy="1242.53" r="2.7" fill="#e58a3a" />
<rect x="1083.79" y="1203.23" width="6" height="6" fill="#cf8d48" stroke="none" stroke-width="1" />
<circle cx="1086.79" cy="1206.23" r="2.7" fill="#e58a3a" />
<polyline points="731.77,1472.67 765.89,1526.4 821.07,1419.31 867.53,1398.62 910.73,1334.01 962.28,1343.45 1012.73,1312.59 1039.23,1257.05 1083.52,1235.27" fill="none" stroke="#3c9c40" stroke-width="1.6" stroke-linejoin="round"/>
<circle cx="731.77" cy="1472.67" r="2.8" fill="#3a8f3f" />
<circle cx="765.89" cy="1526.4" r="2.8" fill="#3a8f3f" />
<circle cx="821.07" cy="1419.31" r="2.8" fill="#3a8f3f" />
<circle cx="867.53" cy="1398.62" r="2.8" fill="#3a8f3f" />
<circle cx="910.73" cy="1334.01" r="2.8" fill="#3a8f3f" />
<circle cx="962.28" cy="1343.45" r="2.8" fill="#3a8f3f" />
<circle cx="1012.73" cy="1312.59" r="2.8" fill="#3a8f3f" />
<circle cx="1039.23" cy="1257.05" r="2.8" fill="#3a8f3f" />
<circle cx="1083.52" cy="1235.27" r="2.8" fill="#3a8f3f" />
<rect x="687.1" y="1196.1" width="111.7" height="60.7" fill="#fff" stroke="#eeeeee" stroke-width="0.9" rx="2"/>
<line x1="689" y1="1203.5" x2="709.5" y2="1203.5" stroke="#2a74b2" stroke-width="1.3" stroke-dasharray="4 2"/>
<rect x="696.9" y="1200.8" width="5.4" height="5.4" fill="#2a74b2" stroke="none" stroke-width="1" />
<line x1="689" y1="1218.1" x2="709.5" y2="1218.1" stroke="#ea8630" stroke-width="1.4" />
<circle cx="699.6" cy="1218.1" r="2.7" fill="#ea8630" />
<line x1="689" y1="1232.6" x2="709.5" y2="1232.6" stroke="#3c9c40" stroke-width="1.4" />
<circle cx="699.6" cy="1232.6" r="2.7" fill="#3a8f3f" />
<line x1="689" y1="1246.9" x2="709.5" y2="1246.9" stroke="#1a1a1a" stroke-width="2" stroke-dasharray="4.4 1.9"/>
<text x="717.4" y="1206.5" font-size="9.6" text-anchor="start" fill="#2a2a2a" >Uncalibrated</text>
<text x="717.4" y="1221.1" font-size="9.6" text-anchor="start" fill="#2a2a2a" >Platt</text>
<text x="717.4" y="1235.6" font-size="9.6" text-anchor="start" fill="#2a2a2a" >Isotonic</text>
<text x="717.4" y="1249.9" font-size="9.6" text-anchor="start" fill="#2a2a2a" >Perfectly Calibrated</text>
<text x="931.8" y="1184.1" font-size="11.5" text-anchor="middle" fill="#2a2a2a" >Calibration Curve</text>
<text x="932" y="1569.2" font-size="9.7" text-anchor="middle" fill="#2a2a2a" >Mean predicted value</text>
<text x="0" y="0" font-size="9.49" text-anchor="middle" fill="#2a2a2a" transform="translate(656.53 1366.4) rotate(-90)">Fraction of positives</text>
</g>
<g class="h h1">
<rect x="1246.5" y="16.9" width="610.5" height="407.3" fill="#fff" stroke="none" stroke-width="1" />
<line x1="1246" y1="16.9" x2="1857.5" y2="16.9" stroke="#e5e5e5" stroke-width="1" />
<line x1="1246" y1="424.2" x2="1857.5" y2="424.2" stroke="#e9e9e9" stroke-width="1" />
<line x1="1246.5" y1="16.9" x2="1246.5" y2="424.2" stroke="#e9e9e9" stroke-width="1" />
<line x1="1857" y1="16.9" x2="1857" y2="424.2" stroke="#e9e9e9" stroke-width="1" />
<rect x="1298.5" y="35.8" width="549.9" height="358.4" fill="#fff" stroke="#7a7a7a" stroke-width="1.3" />
<rect x="1518.3" y="52.05" width="305.01" height="10.3" fill="#fde725" stroke="#2e3822" stroke-width="1.15" />
<line x1="1295.9" y1="57.2" x2="1298.5" y2="57.2" stroke="#444" stroke-width="1" />
<text x="1293.1" y="59.6" font-size="6.9" text-anchor="end" fill="#303030" >MuS</text>
<rect x="1518.3" y="64.69" width="303.45" height="10.3" fill="#e5e419" stroke="#2e3822" stroke-width="1.15" />
<line x1="1295.9" y1="69.84" x2="1298.5" y2="69.84" stroke="#444" stroke-width="1" />
<text x="1293.1" y="72.24" font-size="6.9" text-anchor="end" fill="#303030" >MoS</text>
<rect x="1518.3" y="77.32" width="207.99" height="10.3" fill="#cae11f" stroke="#2e3822" stroke-width="1.15" />
<line x1="1295.9" y1="82.47" x2="1298.5" y2="82.47" stroke="#444" stroke-width="1" />
<text x="1293.1" y="84.87" font-size="6.9" text-anchor="end" fill="#303030" >DI-1</text>
<rect x="1518.3" y="89.96" width="203.78" height="10.3" fill="#b0dd2f" stroke="#2e3822" stroke-width="1.15" />
<line x1="1295.9" y1="95.11" x2="1298.5" y2="95.11" stroke="#444" stroke-width="1" />
<text x="1293.1" y="97.51" font-size="6.9" text-anchor="end" fill="#303030" >DI-3</text>
<rect x="1322.49" y="102.59" width="195.81" height="10.3" fill="#95d840" stroke="#2e3822" stroke-width="1.15" />
<line x1="1295.9" y1="107.74" x2="1298.5" y2="107.74" stroke="#444" stroke-width="1" />
<text x="1293.1" y="110.14" font-size="6.9" text-anchor="end" fill="#303030" >RrPD</text>
<rect x="1518.3" y="115.23" width="193.37" height="10.3" fill="#7ad151" stroke="#2e3822" stroke-width="1.15" />
<line x1="1295.9" y1="120.38" x2="1298.5" y2="120.38" stroke="#444" stroke-width="1" />
<text x="1293.1" y="122.78" font-size="6.9" text-anchor="end" fill="#303030" >DI-2</text>
<rect x="1518.3" y="127.87" width="191.6" height="10.3" fill="#63cb5f" stroke="#2e3822" stroke-width="1.15" />
<line x1="1295.9" y1="133.02" x2="1298.5" y2="133.02" stroke="#444" stroke-width="1" />
<text x="1293.1" y="135.42" font-size="6.9" text-anchor="end" fill="#303030" >RrSD</text>
<rect x="1389.39" y="140.5" width="128.91" height="10.3" fill="#4ec36b" stroke="#2e3822" stroke-width="1.15" />
<line x1="1295.9" y1="145.65" x2="1298.5" y2="145.65" stroke="#444" stroke-width="1" />
<text x="1293.1" y="148.05" font-size="6.9" text-anchor="end" fill="#303030" >RrDCM</text>
<rect x="1394.7" y="153.14" width="123.6" height="10.3" fill="#3bbb75" stroke="#2e3822" stroke-width="1.15" />
<line x1="1295.9" y1="158.29" x2="1298.5" y2="158.29" stroke="#444" stroke-width="1" />
<text x="1293.1" y="160.69" font-size="6.9" text-anchor="end" fill="#303030" >RrSCA</text>
<rect x="1412.64" y="165.77" width="105.66" height="10.3" fill="#2cb17e" stroke="#2e3822" stroke-width="1.15" />
<line x1="1295.9" y1="170.92" x2="1298.5" y2="170.92" stroke="#444" stroke-width="1" />
<text x="1293.1" y="173.32" font-size="6.9" text-anchor="end" fill="#303030" >DOS</text>
<rect x="1424.61" y="178.41" width="93.69" height="10.3" fill="#22a884" stroke="#2e3822" stroke-width="1.15" />
<line x1="1295.9" y1="183.56" x2="1298.5" y2="183.56" stroke="#444" stroke-width="1" />
<text x="1293.1" y="185.96" font-size="6.9" text-anchor="end" fill="#303030" >BMI</text>
<rect x="1518.3" y="191.05" width="69.77" height="10.3" fill="#1f9f88" stroke="#2e3822" stroke-width="1.15" />
<line x1="1295.9" y1="196.2" x2="1298.5" y2="196.2" stroke="#444" stroke-width="1" />
<text x="1293.1" y="198.6" font-size="6.9" text-anchor="end" fill="#303030" >OT</text>
<rect x="1454.95" y="203.68" width="63.35" height="10.3" fill="#1f958b" stroke="#2e3822" stroke-width="1.15" />
<line x1="1295.9" y1="208.83" x2="1298.5" y2="208.83" stroke="#444" stroke-width="1" />
<text x="1293.1" y="211.23" font-size="6.9" text-anchor="end" fill="#303030" >Age</text>
<rect x="1474.89" y="216.32" width="43.41" height="10.3" fill="#228b8d" stroke="#2e3822" stroke-width="1.15" />
<line x1="1295.9" y1="221.47" x2="1298.5" y2="221.47" stroke="#444" stroke-width="1" />
<text x="1293.1" y="223.87" font-size="6.9" text-anchor="end" fill="#303030" >TuT</text>
<rect x="1476.66" y="228.95" width="41.64" height="10.3" fill="#26828e" stroke="#2e3822" stroke-width="1.15" />
<line x1="1295.9" y1="234.1" x2="1298.5" y2="234.1" stroke="#444" stroke-width="1" />
<text x="1293.1" y="236.5" font-size="6.9" text-anchor="end" fill="#303030" >FuT</text>
<rect x="1477.77" y="241.59" width="40.53" height="10.3" fill="#2a788e" stroke="#2e3822" stroke-width="1.15" />
<line x1="1295.9" y1="246.74" x2="1298.5" y2="246.74" stroke="#444" stroke-width="1" />
<text x="1293.1" y="249.14" font-size="6.9" text-anchor="end" fill="#303030" >ExT</text>
<rect x="1482.42" y="254.23" width="35.88" height="10.3" fill="#2e6f8e" stroke="#2e3822" stroke-width="1.15" />
<line x1="1295.9" y1="259.38" x2="1298.5" y2="259.38" stroke="#444" stroke-width="1" />
<text x="1293.1" y="261.78" font-size="6.9" text-anchor="end" fill="#303030" >RrTAD</text>
<rect x="1485.3" y="266.86" width="33" height="10.3" fill="#32648e" stroke="#2e3822" stroke-width="1.15" />
<line x1="1295.9" y1="272.01" x2="1298.5" y2="272.01" stroke="#444" stroke-width="1" />
<text x="1293.1" y="274.41" font-size="6.9" text-anchor="end" fill="#303030" >EnT</text>
<rect x="1518.3" y="279.5" width="24.81" height="10.3" fill="#375a8c" stroke="#2e3822" stroke-width="1.15" />
<line x1="1295.9" y1="284.65" x2="1298.5" y2="284.65" stroke="#444" stroke-width="1" />
<text x="1293.1" y="287.05" font-size="6.9" text-anchor="end" fill="#303030" >DO</text>
<rect x="1500.58" y="292.13" width="17.72" height="10.3" fill="#3c4f8a" stroke="#2e3822" stroke-width="1.15" />
<line x1="1295.9" y1="297.28" x2="1298.5" y2="297.28" stroke="#444" stroke-width="1" />
<text x="1293.1" y="299.68" font-size="6.9" text-anchor="end" fill="#303030" >LaT</text>
<rect x="1503.24" y="304.77" width="15.06" height="10.3" fill="#414487" stroke="#2e3822" stroke-width="1.15" />
<line x1="1295.9" y1="309.92" x2="1298.5" y2="309.92" stroke="#444" stroke-width="1" />
<text x="1293.1" y="312.32" font-size="6.9" text-anchor="end" fill="#303030" >Sex</text>
<rect x="1518.3" y="317.41" width="13.51" height="10.3" fill="#453781" stroke="#2e3822" stroke-width="1.15" />
<line x1="1295.9" y1="322.56" x2="1298.5" y2="322.56" stroke="#444" stroke-width="1" />
<text x="1293.1" y="324.96" font-size="6.9" text-anchor="end" fill="#303030" >IBL</text>
<rect x="1506.34" y="330.04" width="11.96" height="10.3" fill="#472a7a" stroke="#2e3822" stroke-width="1.15" />
<line x1="1295.9" y1="335.19" x2="1298.5" y2="335.19" stroke="#444" stroke-width="1" />
<text x="1293.1" y="337.59" font-size="6.9" text-anchor="end" fill="#303030" >SH</text>
<rect x="1507.89" y="342.68" width="10.41" height="10.3" fill="#481d6f" stroke="#2e3822" stroke-width="1.15" />
<line x1="1295.9" y1="347.83" x2="1298.5" y2="347.83" stroke="#444" stroke-width="1" />
<text x="1293.1" y="350.23" font-size="6.9" text-anchor="end" fill="#303030" >DH</text>
<rect x="1514.53" y="355.31" width="3.77" height="10.3" fill="#471063" stroke="#2e3822" stroke-width="1.15" />
<line x1="1295.9" y1="360.46" x2="1298.5" y2="360.46" stroke="#444" stroke-width="1" />
<text x="1293.1" y="362.86" font-size="6.9" text-anchor="end" fill="#303030" >Diabetes</text>
<rect x="1518.3" y="367.95" width="1.11" height="10.3" fill="#440154" stroke="#2e3822" stroke-width="1.15" />
<line x1="1295.9" y1="373.1" x2="1298.5" y2="373.1" stroke="#444" stroke-width="1" />
<text x="1293.1" y="375.5" font-size="6.9" text-anchor="end" fill="#303030" >Hypertension</text>
<line x1="1407.55" y1="394.2" x2="1407.55" y2="396.8" stroke="#444" stroke-width="1" />
<text x="1407.55" y="404" font-size="6.2" text-anchor="middle" fill="#303030" >−5</text>
<line x1="1518.3" y1="394.2" x2="1518.3" y2="396.8" stroke="#444" stroke-width="1" />
<text x="1518.3" y="404" font-size="6.2" text-anchor="middle" fill="#303030" >0</text>
<line x1="1629.05" y1="394.2" x2="1629.05" y2="396.8" stroke="#444" stroke-width="1" />
<text x="1629.05" y="404" font-size="6.2" text-anchor="middle" fill="#303030" >5</text>
<line x1="1739.8" y1="394.2" x2="1739.8" y2="396.8" stroke="#444" stroke-width="1" />
<text x="1739.8" y="404" font-size="6.2" text-anchor="middle" fill="#303030" >10</text>
<text x="1572.45" y="31.2" font-size="8.6" text-anchor="middle" fill="#333" >Feature Importance</text>
<text x="1572.45" y="414.4" font-size="7" text-anchor="middle" fill="#333" >Coefficient Value</text>
</g>
<g class="h h1">
<rect x="1247.2" y="1165.6" width="609.8" height="406.4" fill="#fff" stroke="none" stroke-width="1" />
<line x1="1246.7" y1="1165.6" x2="1857.5" y2="1165.6" stroke="#cdcdcd" stroke-width="1" />
<line x1="1246.7" y1="1572" x2="1857.5" y2="1572" stroke="#e5e5e5" stroke-width="1" />
<line x1="1247.2" y1="1165.6" x2="1247.2" y2="1572" stroke="#d7d7d7" stroke-width="1" />
<line x1="1857" y1="1165.6" x2="1857" y2="1572" stroke="#e5e5e5" stroke-width="1" />
<rect x="1298.5" y="1183.7" width="549.9" height="358.5" fill="#fff" stroke="#7a7a7a" stroke-width="1.3" />
<rect x="1540.4" y="1199.75" width="283.58" height="10.3" fill="#fde725" stroke="#2e3822" stroke-width="1.15" />
<line x1="1295.9" y1="1204.9" x2="1298.5" y2="1204.9" stroke="#444" stroke-width="1" />
<text x="1293.1" y="1207.3" font-size="6.9" text-anchor="end" fill="#303030" >DI-1</text>
<rect x="1540.4" y="1212.39" width="279.05" height="10.3" fill="#e5e419" stroke="#2e3822" stroke-width="1.15" />
<line x1="1295.9" y1="1217.54" x2="1298.5" y2="1217.54" stroke="#444" stroke-width="1" />
<text x="1293.1" y="1219.94" font-size="6.9" text-anchor="end" fill="#303030" >DI-3</text>
<rect x="1540.4" y="1225.02" width="278.68" height="10.3" fill="#cae11f" stroke="#2e3822" stroke-width="1.15" />
<line x1="1295.9" y1="1230.17" x2="1298.5" y2="1230.17" stroke="#444" stroke-width="1" />
<text x="1293.1" y="1232.57" font-size="6.9" text-anchor="end" fill="#303030" >DI-2</text>
<rect x="1540.4" y="1237.66" width="256.68" height="10.3" fill="#b0dd2f" stroke="#2e3822" stroke-width="1.15" />
<line x1="1295.9" y1="1242.81" x2="1298.5" y2="1242.81" stroke="#444" stroke-width="1" />
<text x="1293.1" y="1245.21" font-size="6.9" text-anchor="end" fill="#303030" >MoS</text>
<rect x="1540.4" y="1250.29" width="255.55" height="10.3" fill="#95d840" stroke="#2e3822" stroke-width="1.15" />
<line x1="1295.9" y1="1255.44" x2="1298.5" y2="1255.44" stroke="#444" stroke-width="1" />
<text x="1293.1" y="1257.84" font-size="6.9" text-anchor="end" fill="#303030" >MuS</text>
<rect x="1323.82" y="1262.93" width="216.58" height="10.3" fill="#7ad151" stroke="#2e3822" stroke-width="1.15" />
<line x1="1295.9" y1="1268.08" x2="1298.5" y2="1268.08" stroke="#444" stroke-width="1" />
<text x="1293.1" y="1270.48" font-size="6.9" text-anchor="end" fill="#303030" >BMI</text>
<rect x="1438.08" y="1275.57" width="102.32" height="10.3" fill="#63cb5f" stroke="#2e3822" stroke-width="1.15" />
<line x1="1295.9" y1="1280.72" x2="1298.5" y2="1280.72" stroke="#444" stroke-width="1" />
<text x="1293.1" y="1283.12" font-size="6.9" text-anchor="end" fill="#303030" >RrSCA</text>
<rect x="1540.4" y="1288.2" width="92.89" height="10.3" fill="#4ec36b" stroke="#2e3822" stroke-width="1.15" />
<line x1="1295.9" y1="1293.35" x2="1298.5" y2="1293.35" stroke="#444" stroke-width="1" />
<text x="1293.1" y="1295.75" font-size="6.9" text-anchor="end" fill="#303030" >RrSD</text>
<rect x="1456.06" y="1300.84" width="84.34" height="10.3" fill="#3bbb75" stroke="#2e3822" stroke-width="1.15" />
<line x1="1295.9" y1="1305.99" x2="1298.5" y2="1305.99" stroke="#444" stroke-width="1" />
<text x="1293.1" y="1308.39" font-size="6.9" text-anchor="end" fill="#303030" >RrTAD</text>
<rect x="1471.52" y="1313.47" width="68.88" height="10.3" fill="#2cb17e" stroke="#2e3822" stroke-width="1.15" />
<line x1="1295.9" y1="1318.62" x2="1298.5" y2="1318.62" stroke="#444" stroke-width="1" />
<text x="1293.1" y="1321.02" font-size="6.9" text-anchor="end" fill="#303030" >RrPD</text>
<rect x="1477.42" y="1326.11" width="62.98" height="10.3" fill="#22a884" stroke="#2e3822" stroke-width="1.15" />
<line x1="1295.9" y1="1331.26" x2="1298.5" y2="1331.26" stroke="#444" stroke-width="1" />
<text x="1293.1" y="1333.66" font-size="6.9" text-anchor="end" fill="#303030" >Age</text>
<rect x="1489.11" y="1338.75" width="51.29" height="10.3" fill="#1f9f88" stroke="#2e3822" stroke-width="1.15" />
<line x1="1295.9" y1="1343.9" x2="1298.5" y2="1343.9" stroke="#444" stroke-width="1" />
<text x="1293.1" y="1346.3" font-size="6.9" text-anchor="end" fill="#303030" >RrDCM</text>
<rect x="1496.15" y="1351.38" width="44.25" height="10.3" fill="#1f958b" stroke="#2e3822" stroke-width="1.15" />
<line x1="1295.9" y1="1356.53" x2="1298.5" y2="1356.53" stroke="#444" stroke-width="1" />
<text x="1293.1" y="1358.93" font-size="6.9" text-anchor="end" fill="#303030" >TuT</text>
<rect x="1497.66" y="1364.02" width="42.74" height="10.3" fill="#228b8d" stroke="#2e3822" stroke-width="1.15" />
<line x1="1295.9" y1="1369.17" x2="1298.5" y2="1369.17" stroke="#444" stroke-width="1" />
<text x="1293.1" y="1371.57" font-size="6.9" text-anchor="end" fill="#303030" >FuT</text>
<rect x="1498.79" y="1376.65" width="41.61" height="10.3" fill="#26828e" stroke="#2e3822" stroke-width="1.15" />
<line x1="1295.9" y1="1381.8" x2="1298.5" y2="1381.8" stroke="#444" stroke-width="1" />
<text x="1293.1" y="1384.2" font-size="6.9" text-anchor="end" fill="#303030" >ExT</text>
<rect x="1540.4" y="1389.29" width="39.34" height="10.3" fill="#2a788e" stroke="#2e3822" stroke-width="1.15" />
<line x1="1295.9" y1="1394.44" x2="1298.5" y2="1394.44" stroke="#444" stroke-width="1" />
<text x="1293.1" y="1396.84" font-size="6.9" text-anchor="end" fill="#303030" >OT</text>
<rect x="1504.83" y="1401.93" width="35.57" height="10.3" fill="#2e6f8e" stroke="#2e3822" stroke-width="1.15" />
<line x1="1295.9" y1="1407.08" x2="1298.5" y2="1407.08" stroke="#444" stroke-width="1" />
<text x="1293.1" y="1409.48" font-size="6.9" text-anchor="end" fill="#303030" >EnT</text>
<rect x="1506.34" y="1414.56" width="34.06" height="10.3" fill="#32648e" stroke="#2e3822" stroke-width="1.15" />
<line x1="1295.9" y1="1419.71" x2="1298.5" y2="1419.71" stroke="#444" stroke-width="1" />
<text x="1293.1" y="1422.11" font-size="6.9" text-anchor="end" fill="#303030" >DOS</text>
<rect x="1511.87" y="1427.2" width="28.53" height="10.3" fill="#375a8c" stroke="#2e3822" stroke-width="1.15" />
<line x1="1295.9" y1="1432.35" x2="1298.5" y2="1432.35" stroke="#444" stroke-width="1" />
<text x="1293.1" y="1434.75" font-size="6.9" text-anchor="end" fill="#303030" >LaT</text>
<rect x="1540.4" y="1439.83" width="14.96" height="10.3" fill="#3c4f8a" stroke="#2e3822" stroke-width="1.15" />
<line x1="1295.9" y1="1444.98" x2="1298.5" y2="1444.98" stroke="#444" stroke-width="1" />
<text x="1293.1" y="1447.38" font-size="6.9" text-anchor="end" fill="#303030" >DO</text>
<rect x="1540.4" y="1452.47" width="13.83" height="10.3" fill="#414487" stroke="#2e3822" stroke-width="1.15" />
<line x1="1295.9" y1="1457.62" x2="1298.5" y2="1457.62" stroke="#444" stroke-width="1" />
<text x="1293.1" y="1460.02" font-size="6.9" text-anchor="end" fill="#303030" >IBL</text>
<rect x="1532.48" y="1465.11" width="7.92" height="10.3" fill="#453781" stroke="#2e3822" stroke-width="1.15" />
<line x1="1295.9" y1="1470.26" x2="1298.5" y2="1470.26" stroke="#444" stroke-width="1" />
<text x="1293.1" y="1472.66" font-size="6.9" text-anchor="end" fill="#303030" >DH</text>
<rect x="1533.61" y="1477.74" width="6.79" height="10.3" fill="#472a7a" stroke="#2e3822" stroke-width="1.15" />
<line x1="1295.9" y1="1482.89" x2="1298.5" y2="1482.89" stroke="#444" stroke-width="1" />
<text x="1293.1" y="1485.29" font-size="6.9" text-anchor="end" fill="#303030" >Sex</text>
<rect x="1534.12" y="1490.38" width="6.29" height="10.3" fill="#481d6f" stroke="#2e3822" stroke-width="1.15" />
<line x1="1295.9" y1="1495.53" x2="1298.5" y2="1495.53" stroke="#444" stroke-width="1" />
<text x="1293.1" y="1497.93" font-size="6.9" text-anchor="end" fill="#303030" >SH</text>
<rect x="1537.76" y="1503.01" width="2.64" height="10.3" fill="#471063" stroke="#2e3822" stroke-width="1.15" />
<line x1="1295.9" y1="1508.16" x2="1298.5" y2="1508.16" stroke="#444" stroke-width="1" />
<text x="1293.1" y="1510.56" font-size="6.9" text-anchor="end" fill="#303030" >Diabetes</text>
<rect x="1540.4" y="1515.65" width="0.38" height="10.3" fill="#440154" stroke="#2e3822" stroke-width="1.15" />
<line x1="1295.9" y1="1520.8" x2="1298.5" y2="1520.8" stroke="#444" stroke-width="1" />
<text x="1293.1" y="1523.2" font-size="6.9" text-anchor="end" fill="#303030" >Hypertension</text>
<line x1="1351.85" y1="1542.2" x2="1351.85" y2="1544.8" stroke="#444" stroke-width="1" />
<text x="1351.85" y="1552" font-size="6.2" text-anchor="middle" fill="#303030" >−15</text>
<line x1="1414.7" y1="1542.2" x2="1414.7" y2="1544.8" stroke="#444" stroke-width="1" />
<text x="1414.7" y="1552" font-size="6.2" text-anchor="middle" fill="#303030" >−10</text>
<line x1="1477.55" y1="1542.2" x2="1477.55" y2="1544.8" stroke="#444" stroke-width="1" />
<text x="1477.55" y="1552" font-size="6.2" text-anchor="middle" fill="#303030" >−5</text>
<line x1="1540.4" y1="1542.2" x2="1540.4" y2="1544.8" stroke="#444" stroke-width="1" />
<text x="1540.4" y="1552" font-size="6.2" text-anchor="middle" fill="#303030" >0</text>
<line x1="1603.25" y1="1542.2" x2="1603.25" y2="1544.8" stroke="#444" stroke-width="1" />
<text x="1603.25" y="1552" font-size="6.2" text-anchor="middle" fill="#303030" >5</text>
<line x1="1666.1" y1="1542.2" x2="1666.1" y2="1544.8" stroke="#444" stroke-width="1" />
<text x="1666.1" y="1552" font-size="6.2" text-anchor="middle" fill="#303030" >10</text>
<line x1="1728.95" y1="1542.2" x2="1728.95" y2="1544.8" stroke="#444" stroke-width="1" />
<text x="1728.95" y="1552" font-size="6.2" text-anchor="middle" fill="#303030" >15</text>
<line x1="1791.8" y1="1542.2" x2="1791.8" y2="1544.8" stroke="#444" stroke-width="1" />
<text x="1791.8" y="1552" font-size="6.2" text-anchor="middle" fill="#303030" >20</text>
<text x="1572.45" y="1179.2" font-size="8.6" text-anchor="middle" fill="#333" >Feature Importance</text>
<text x="1572.45" y="1562.3" font-size="7" text-anchor="middle" fill="#333" >Coefficient Value</text>
</g>
<g class="h h3">
<rect x="35.5" y="423.7" width="598.7" height="710.1" fill="#fff" stroke="none" stroke-width="1" />
<line x1="35" y1="423.7" x2="634.7" y2="423.7" stroke="#c5c5c5" stroke-width="1" />
<line x1="35" y1="1133.8" x2="634.7" y2="1133.8" stroke="#e9e9e9" stroke-width="1" />
<line x1="35.5" y1="423.7" x2="35.5" y2="1133.8" stroke="#d7d7d7" stroke-width="1" />
<line x1="634.2" y1="423.7" x2="634.2" y2="1133.8" stroke="#e5e5e5" stroke-width="1" />
<line x1="115.4" y1="470" x2="519.8" y2="470" stroke="#f7f7f7" stroke-width="0.8" />
<line x1="115.4" y1="500.93" x2="519.8" y2="500.93" stroke="#f7f7f7" stroke-width="0.8" />
<line x1="115.4" y1="531.86" x2="519.8" y2="531.86" stroke="#f7f7f7" stroke-width="0.8" />
<line x1="115.4" y1="562.79" x2="519.8" y2="562.79" stroke="#f7f7f7" stroke-width="0.8" />
<line x1="115.4" y1="593.72" x2="519.8" y2="593.72" stroke="#f7f7f7" stroke-width="0.8" />
<line x1="115.4" y1="624.65" x2="519.8" y2="624.65" stroke="#f7f7f7" stroke-width="0.8" />
<line x1="115.4" y1="655.58" x2="519.8" y2="655.58" stroke="#f7f7f7" stroke-width="0.8" />
<line x1="115.4" y1="686.51" x2="519.8" y2="686.51" stroke="#f7f7f7" stroke-width="0.8" />
<line x1="115.4" y1="717.44" x2="519.8" y2="717.44" stroke="#f7f7f7" stroke-width="0.8" />
<line x1="115.4" y1="748.37" x2="519.8" y2="748.37" stroke="#f7f7f7" stroke-width="0.8" />
<line x1="115.4" y1="779.3" x2="519.8" y2="779.3" stroke="#f7f7f7" stroke-width="0.8" />
<line x1="115.4" y1="810.23" x2="519.8" y2="810.23" stroke="#f7f7f7" stroke-width="0.8" />
<line x1="115.4" y1="841.16" x2="519.8" y2="841.16" stroke="#f7f7f7" stroke-width="0.8" />
<line x1="115.4" y1="872.09" x2="519.8" y2="872.09" stroke="#f7f7f7" stroke-width="0.8" />
<line x1="115.4" y1="903.02" x2="519.8" y2="903.02" stroke="#f7f7f7" stroke-width="0.8" />
<line x1="115.4" y1="933.95" x2="519.8" y2="933.95" stroke="#f7f7f7" stroke-width="0.8" />
<line x1="115.4" y1="964.88" x2="519.8" y2="964.88" stroke="#f7f7f7" stroke-width="0.8" />
<line x1="115.4" y1="995.81" x2="519.8" y2="995.81" stroke="#f7f7f7" stroke-width="0.8" />
<line x1="115.4" y1="1026.74" x2="519.8" y2="1026.74" stroke="#f7f7f7" stroke-width="0.8" />
<line x1="115.4" y1="1057.67" x2="519.8" y2="1057.67" stroke="#f7f7f7" stroke-width="0.8" />
<line x1="318.3" y1="438.5" x2="318.3" y2="1089.3" stroke="#808080" stroke-width="1.25" />
<text x="90.2" y="474.8" font-size="13" text-anchor="end" fill="#2a2a2a" >MuS</text>
<rect x="131.7" y="465" width="3.6" height="10" fill="#118af2" stroke="none" stroke-width="1" rx="1.8"/>
<circle cx="352.5" cy="470" r="2.05" fill="#c01c56" />
<rect x="380.9" y="458.15" width="4" height="23.7" fill="#fa0f55" stroke="none" stroke-width="1" rx="2"/>
<text x="90.2" y="505.73" font-size="13" text-anchor="end" fill="#2a2a2a" >MoS</text>
<rect x="252.1" y="489.18" width="4" height="23.5" fill="#118af2" stroke="none" stroke-width="1" rx="2"/>
<circle cx="284.7" cy="500.93" r="2.05" fill="#3d5cb4" />
<rect x="500.3" y="495.43" width="4.2" height="11" fill="#fa0f55" stroke="none" stroke-width="1" rx="2.1"/>
<text x="90.2" y="536.66" font-size="13" text-anchor="end" fill="#2a2a2a" >DI-1</text>
<rect x="245.4" y="520.01" width="4" height="23.7" fill="#118af2" stroke="none" stroke-width="1" rx="2"/>
<circle cx="288.1" cy="531.86" r="2.05" fill="#3d5cb4" />
<circle cx="356.8" cy="531.86" r="2.05" fill="#c01c56" />
<rect x="372.6" y="530.66" width="7.2" height="2.4" fill="#c01c56" stroke="none" stroke-width="1" rx="1.2"/>
<rect x="414.9" y="523.86" width="4" height="16" fill="#fa0f55" stroke="none" stroke-width="1" rx="2"/>
<text x="90.2" y="567.59" font-size="13" text-anchor="end" fill="#2a2a2a" >DI-2</text>
<rect x="264.9" y="550.94" width="4" height="23.7" fill="#118af2" stroke="none" stroke-width="1" rx="2"/>
<rect x="301.5" y="561.59" width="6.9" height="2.4" fill="#3d5cb4" stroke="none" stroke-width="1" rx="1.2"/>
<circle cx="324.1" cy="562.79" r="2.05" fill="#6a4aa8" />
<circle cx="387.2" cy="562.79" r="2.05" fill="#c01c56" />
<rect x="423.1" y="555.04" width="4" height="15.5" fill="#fa0f55" stroke="none" stroke-width="1" rx="2"/>
<text x="90.2" y="598.52" font-size="13" text-anchor="end" fill="#2a2a2a" >DI-3</text>
<rect x="273.7" y="581.97" width="4" height="23.5" fill="#118af2" stroke="none" stroke-width="1" rx="2"/>
<circle cx="382.1" cy="593.72" r="2.05" fill="#c01c56" />
<rect x="440" y="588.97" width="4.2" height="9.5" fill="#fa0f55" stroke="none" stroke-width="1" rx="2.1"/>
<text x="90.2" y="629.45" font-size="13" text-anchor="end" fill="#2a2a2a" >TuT</text>
<rect x="293" y="619.15" width="4" height="11" fill="#fa0f55" stroke="none" stroke-width="1" rx="2"/>
<circle cx="312" cy="624.65" r="2.05" fill="#c01c56" />
<rect x="329.1" y="612.8" width="4" height="23.7" fill="#118af2" stroke="none" stroke-width="1" rx="2"/>
<text x="90.2" y="660.38" font-size="13" text-anchor="end" fill="#2a2a2a" >FuT</text>
<rect x="289.4" y="650.58" width="4" height="10" fill="#fa0f55" stroke="none" stroke-width="1" rx="2"/>
<circle cx="300.9" cy="655.58" r="2.05" fill="#c01c56" />
<circle cx="308.7" cy="655.58" r="2.05" fill="#c01c56" />
<rect x="323.7" y="643.73" width="4" height="23.7" fill="#118af2" stroke="none" stroke-width="1" rx="2"/>
<text x="90.2" y="691.31" font-size="13" text-anchor="end" fill="#2a2a2a" >RrSD</text>
<linearGradient id="sg1" gradientUnits="userSpaceOnUse" x1="314" y1="0" x2="325" y2="0"><stop offset="0" stop-color="#118af2"/><stop offset="0.5" stop-color="#8a3cc0"/><stop offset="1" stop-color="#fa0f55"/></linearGradient>
<polygon points="300.2,685.48 304,684.45 308,683.76 311.3,683.24 312.4,679.46 313.8,679.46 315,683.07 318,682.38 320.5,682.04 322.5,683.59 326,684.1 334,684.27 341,684.45 342.7,685.31 342.7,687.71 341,688.57 334,688.75 326,688.92 322.5,689.43 320.5,690.98 318,690.64 315,689.95 313.8,693.56 312.4,693.56 311.3,689.78 308,689.26 304,688.57 300.2,687.54" fill="url(#sg1)" stroke="url(#sg1)" stroke-width="0.8" stroke-linejoin="round"/>
<text x="90.2" y="722.24" font-size="13" text-anchor="end" fill="#2a2a2a" >ExT</text>
<circle cx="290.9" cy="717.44" r="2.2" fill="#fa0f55" />
<circle cx="315.9" cy="717.44" r="2.05" fill="#3d5cb4" />
<rect x="322.4" y="705.19" width="4" height="24.5" fill="#118af2" stroke="none" stroke-width="1" rx="2"/>
<text x="90.2" y="753.17" font-size="13" text-anchor="end" fill="#2a2a2a" >DO</text>
<rect x="309.8" y="736.12" width="4" height="24.5" fill="#118af2" stroke="none" stroke-width="1" rx="2"/>
<rect x="318.5" y="747.27" width="11.5" height="2.2" fill="#a2307a" stroke="none" stroke-width="1" rx="1.1"/>
<rect x="329.5" y="744.52" width="4.4" height="7.7" fill="#fa0f55" stroke="none" stroke-width="1" rx="2.2"/>
<text x="90.2" y="784.1" font-size="13" text-anchor="end" fill="#2a2a2a" >RrPD</text>
<circle cx="288.8" cy="779.3" r="1.7" fill="#c01c56" />
<linearGradient id="sg2" gradientUnits="userSpaceOnUse" x1="308" y1="0" x2="321" y2="0"><stop offset="0" stop-color="#fa0f55"/><stop offset="0.5" stop-color="#8a3cc0"/><stop offset="1" stop-color="#118af2"/></linearGradient>
<polygon points="297.6,777.92 299,776.2 304,775.86 309,776.03 313,775.34 317,774.83 321,775 324.3,774.83 325.4,769.84 327.6,769.84 328.8,775 331,775.86 333.7,777.92 333.7,780.68 331,782.74 328.8,783.6 327.6,788.76 325.4,788.76 324.3,783.77 321,783.6 317,783.77 313,783.26 309,782.57 304,782.74 299,782.4 297.6,780.68" fill="url(#sg2)" stroke="url(#sg2)" stroke-width="0.8" stroke-linejoin="round"/>
<text x="90.2" y="815.03" font-size="13" text-anchor="end" fill="#2a2a2a" >RrSCA</text>
<linearGradient id="sg3" gradientUnits="userSpaceOnUse" x1="309" y1="0" x2="322" y2="0"><stop offset="0" stop-color="#fa0f55"/><stop offset="0.5" stop-color="#8a3cc0"/><stop offset="1" stop-color="#118af2"/></linearGradient>
<polygon points="298.2,808.51 300,805.41 304,804.9 308,805.59 312,804.9 316,804.73 320,804.73 322.6,804.21 323.6,802.32 325.6,802.32 326.8,805.07 330,806.45 334.3,808.85 334.3,811.61 330,814.01 326.8,815.39 325.6,818.14 323.6,818.14 322.6,816.25 320,815.73 316,815.73 312,815.56 308,814.87 304,815.56 300,815.05 298.2,811.95" fill="url(#sg3)" stroke="url(#sg3)" stroke-width="0.8" stroke-linejoin="round"/>
<text x="90.2" y="845.96" font-size="13" text-anchor="end" fill="#2a2a2a" >RrDCM</text>
<linearGradient id="sg4" gradientUnits="userSpaceOnUse" x1="310" y1="0" x2="321" y2="0"><stop offset="0" stop-color="#fa0f55"/><stop offset="0.5" stop-color="#8a3cc0"/><stop offset="1" stop-color="#118af2"/></linearGradient>
<rect x="300.8" y="834.46" width="29" height="2.6" rx="1.3" fill="url(#sg4)"/>
<linearGradient id="sg5" gradientUnits="userSpaceOnUse" x1="310" y1="0" x2="321" y2="0"><stop offset="0" stop-color="#fa0f55"/><stop offset="0.5" stop-color="#8a3cc0"/><stop offset="1" stop-color="#118af2"/></linearGradient>
<rect x="297.6" y="840.06" width="36.1" height="2.8" rx="1.4" fill="url(#sg5)"/>
<circle cx="312.6" cy="847.56" r="1.4" fill="#3d5cb4" />
<circle cx="319.2" cy="847.56" r="1.4" fill="#3d5cb4" />
<circle cx="322.2" cy="847.56" r="1.4" fill="#3d5cb4" />
<circle cx="325.6" cy="847.56" r="1.4" fill="#3d5cb4" />
<text x="90.2" y="876.89" font-size="13" text-anchor="end" fill="#2a2a2a" >EnT</text>
<rect x="293.1" y="868.59" width="4.4" height="7" fill="#fa0f55" stroke="none" stroke-width="1" rx="2.2"/>
<circle cx="316.3" cy="872.09" r="1.5" fill="#118af2" />
<rect x="319.8" y="859.84" width="4" height="24.5" fill="#118af2" stroke="none" stroke-width="1" rx="2"/>
<text x="90.2" y="907.82" font-size="13" text-anchor="end" fill="#2a2a2a" >Sex</text>
<rect x="309.8" y="891.52" width="4" height="23" fill="#fa0f55" stroke="none" stroke-width="1" rx="2"/>
<rect x="313" y="902.02" width="10" height="2" fill="#a2307a" stroke="none" stroke-width="1" rx="1"/>
<rect x="322.4" y="891.52" width="4" height="23" fill="#118af2" stroke="none" stroke-width="1" rx="2"/>
<text x="90.2" y="938.75" font-size="13" text-anchor="end" fill="#2a2a2a" >OT</text>
<linearGradient id="sg6" gradientUnits="userSpaceOnUse" x1="312" y1="0" x2="324" y2="0"><stop offset="0" stop-color="#118af2"/><stop offset="0.5" stop-color="#8a3cc0"/><stop offset="1" stop-color="#fa0f55"/></linearGradient>
<polygon points="304.7,932.23 306.2,929.65 311,929.31 315,928.27 317,928.27 319,929.48 324,929.82 328,931.37 333,931.89 333,936.01 328,936.53 324,938.08 319,938.42 317,939.63 315,939.63 311,938.59 306.2,938.25 304.7,935.67" fill="url(#sg6)" stroke="url(#sg6)" stroke-width="0.8" stroke-linejoin="round"/>
<rect x="332.5" y="929.45" width="3.8" height="9" fill="#fa0f55" stroke="none" stroke-width="1" rx="1.9"/>
<text x="90.2" y="969.68" font-size="13" text-anchor="end" fill="#2a2a2a" >SH</text>
<rect x="310" y="954.58" width="4" height="20.6" fill="#fa0f55" stroke="none" stroke-width="1" rx="2"/>
<rect x="313" y="963.88" width="8" height="2" fill="#a2307a" stroke="none" stroke-width="1" rx="1"/>
<rect x="320" y="953.38" width="4" height="23" fill="#118af2" stroke="none" stroke-width="1" rx="2"/>
<text x="90.2" y="1000.61" font-size="13" text-anchor="end" fill="#2a2a2a" >LaT</text>
<rect x="304.2" y="992.56" width="4.2" height="6.5" fill="#fa0f55" stroke="none" stroke-width="1" rx="2.1"/>
<circle cx="313.4" cy="995.81" r="1.5" fill="#c01c56" />
<rect x="307" y="995.01" width="6" height="1.6" fill="#fa0f55" stroke="none" stroke-width="1" rx="0.8"/>
<rect x="317.9" y="983.56" width="4.4" height="24.5" fill="#118af2" stroke="none" stroke-width="1" rx="2.2"/>
<text x="90.2" y="1031.54" font-size="13" text-anchor="end" fill="#2a2a2a" >DH</text>
<rect x="310.2" y="1021.24" width="4.4" height="11" fill="#fa0f55" stroke="none" stroke-width="1" rx="2.2"/>
<rect x="313" y="1025.74" width="6" height="2" fill="#fa0f55" stroke="none" stroke-width="1" rx="1"/>
<rect x="317.8" y="1014.74" width="4.6" height="24" fill="#118af2" stroke="none" stroke-width="1" rx="2.3"/>
<text x="90.2" y="1062.47" font-size="13" text-anchor="end" fill="#2a2a2a" >DOS</text>
<linearGradient id="sg7" gradientUnits="userSpaceOnUse" x1="308.05" y1="0" x2="313.45" y2="0"><stop offset="0" stop-color="#fa0f55"/><stop offset="0.5" stop-color="#fa0f55"/><stop offset="1" stop-color="#fa0f55"/></linearGradient>
<polygon points="304,1056.47 308,1055.61 311.5,1053.89 313.6,1049.93 315.4,1049.93 317.5,1052.08 317.5,1063.26 315.4,1065.41 313.6,1065.41 311.5,1061.45 308,1059.73 304,1058.87" fill="url(#sg7)" stroke="url(#sg7)" stroke-width="0.8" stroke-linejoin="round"/>
<rect x="317.9" y="1046.42" width="5.8" height="22.5" fill="#118af2" stroke="none" stroke-width="1" rx="2.9"/>
<line x1="115.4" y1="1089.3" x2="519.8" y2="1089.3" stroke="#777" stroke-width="1.3" />
<line x1="137.8" y1="1089.3" x2="137.8" y2="1092.8" stroke="#666" stroke-width="0.9" />
<text x="137.8" y="1103.9" font-size="10.6" text-anchor="middle" fill="#444" >−10.0</text>
<line x1="182.93" y1="1089.3" x2="182.93" y2="1092.8" stroke="#666" stroke-width="0.9" />
<text x="182.93" y="1103.9" font-size="10.6" text-anchor="middle" fill="#444" >−7.5</text>
<line x1="228.05" y1="1089.3" x2="228.05" y2="1092.8" stroke="#666" stroke-width="0.9" />
<text x="228.05" y="1103.9" font-size="10.6" text-anchor="middle" fill="#444" >−5.0</text>
<line x1="273.18" y1="1089.3" x2="273.18" y2="1092.8" stroke="#666" stroke-width="0.9" />
<text x="273.18" y="1103.9" font-size="10.6" text-anchor="middle" fill="#444" >−2.5</text>
<line x1="318.3" y1="1089.3" x2="318.3" y2="1092.8" stroke="#666" stroke-width="0.9" />
<text x="318.3" y="1103.9" font-size="10.6" text-anchor="middle" fill="#444" >0.0</text>
<line x1="363.43" y1="1089.3" x2="363.43" y2="1092.8" stroke="#666" stroke-width="0.9" />
<text x="363.43" y="1103.9" font-size="10.6" text-anchor="middle" fill="#444" >2.5</text>
<line x1="408.55" y1="1089.3" x2="408.55" y2="1092.8" stroke="#666" stroke-width="0.9" />
<text x="408.55" y="1103.9" font-size="10.6" text-anchor="middle" fill="#444" >5.0</text>
<line x1="453.68" y1="1089.3" x2="453.68" y2="1092.8" stroke="#666" stroke-width="0.9" />
<text x="453.68" y="1103.9" font-size="10.6" text-anchor="middle" fill="#444" >7.5</text>
<line x1="498.8" y1="1089.3" x2="498.8" y2="1092.8" stroke="#666" stroke-width="0.9" />
<text x="498.8" y="1103.9" font-size="10.6" text-anchor="middle" fill="#444" >10.0</text>
<text x="318.4" y="1119.9" font-size="13.5" text-anchor="middle" fill="#383838" style="stroke:#333;stroke-width:.4px;stroke-opacity:.4">SHAP value (impact on model output)</text>
<rect x="546.6" y="440" width="8.3" height="648.6" fill="url(#cb)" stroke="none" stroke-width="1" />
<text x="558.4" y="444.4" font-size="10.8" text-anchor="start" fill="#333" >High</text>
<text x="558.4" y="1092.4" font-size="10.8" text-anchor="start" fill="#333" >Low</text>
<text x="0" y="0" font-size="12.06" text-anchor="middle" fill="#333" transform="translate(589.18 764.3) rotate(-90)">Feature value</text>
</g>
<g class="h h3">
<rect x="23.2" y="1646.7" width="599.3" height="712" fill="#fff" stroke="none" stroke-width="1" />
<line x1="22.7" y1="1646.7" x2="623" y2="1646.7" stroke="#cacaca" stroke-width="1" />
<line x1="22.7" y1="2358.7" x2="623" y2="2358.7" stroke="#d3d3d3" stroke-width="1" />
<line x1="23.2" y1="1646.7" x2="23.2" y2="2358.7" stroke="#cecece" stroke-width="1" />
<line x1="622.5" y1="1646.7" x2="622.5" y2="2358.7" stroke="#e3e3e3" stroke-width="1" />
<line x1="103.5" y1="1693.1" x2="508.2" y2="1693.1" stroke="#f7f7f7" stroke-width="0.8" />
<line x1="103.5" y1="1724.05" x2="508.2" y2="1724.05" stroke="#f7f7f7" stroke-width="0.8" />
<line x1="103.5" y1="1755" x2="508.2" y2="1755" stroke="#f7f7f7" stroke-width="0.8" />
<line x1="103.5" y1="1785.95" x2="508.2" y2="1785.95" stroke="#f7f7f7" stroke-width="0.8" />
<line x1="103.5" y1="1816.9" x2="508.2" y2="1816.9" stroke="#f7f7f7" stroke-width="0.8" />
<line x1="103.5" y1="1847.85" x2="508.2" y2="1847.85" stroke="#f7f7f7" stroke-width="0.8" />
<line x1="103.5" y1="1878.8" x2="508.2" y2="1878.8" stroke="#f7f7f7" stroke-width="0.8" />
<line x1="103.5" y1="1909.75" x2="508.2" y2="1909.75" stroke="#f7f7f7" stroke-width="0.8" />
<line x1="103.5" y1="1940.7" x2="508.2" y2="1940.7" stroke="#f7f7f7" stroke-width="0.8" />
<line x1="103.5" y1="1971.65" x2="508.2" y2="1971.65" stroke="#f7f7f7" stroke-width="0.8" />
<line x1="103.5" y1="2002.6" x2="508.2" y2="2002.6" stroke="#f7f7f7" stroke-width="0.8" />
<line x1="103.5" y1="2033.55" x2="508.2" y2="2033.55" stroke="#f7f7f7" stroke-width="0.8" />
<line x1="103.5" y1="2064.5" x2="508.2" y2="2064.5" stroke="#f7f7f7" stroke-width="0.8" />
<line x1="103.5" y1="2095.45" x2="508.2" y2="2095.45" stroke="#f7f7f7" stroke-width="0.8" />
<line x1="103.5" y1="2126.4" x2="508.2" y2="2126.4" stroke="#f7f7f7" stroke-width="0.8" />
<line x1="103.5" y1="2157.35" x2="508.2" y2="2157.35" stroke="#f7f7f7" stroke-width="0.8" />
<line x1="103.5" y1="2188.3" x2="508.2" y2="2188.3" stroke="#f7f7f7" stroke-width="0.8" />
<line x1="103.5" y1="2219.25" x2="508.2" y2="2219.25" stroke="#f7f7f7" stroke-width="0.8" />
<line x1="103.5" y1="2250.2" x2="508.2" y2="2250.2" stroke="#f7f7f7" stroke-width="0.8" />
<line x1="103.5" y1="2281.15" x2="508.2" y2="2281.15" stroke="#f7f7f7" stroke-width="0.8" />
<line x1="299.7" y1="1661.5" x2="299.7" y2="2312.3" stroke="#808080" stroke-width="1.25" />
<text x="78" y="1697.9" font-size="13" text-anchor="end" fill="#2a2a2a" >DI-1</text>
<rect x="191" y="1681.1" width="4" height="24" fill="#118af2" stroke="none" stroke-width="1" rx="2"/>
<rect x="439.1" y="1684.6" width="4" height="17" fill="#fa0f55" stroke="none" stroke-width="1" rx="2"/>
<text x="78" y="1728.85" font-size="13" text-anchor="end" fill="#2a2a2a" >DI-2</text>
<rect x="212.2" y="1712.05" width="4" height="24" fill="#118af2" stroke="none" stroke-width="1" rx="2"/>
<rect x="455.9" y="1718.25" width="4" height="11.6" fill="#fa0f55" stroke="none" stroke-width="1" rx="2"/>
<text x="78" y="1759.8" font-size="13" text-anchor="end" fill="#2a2a2a" >DI-3</text>
<rect x="243.9" y="1743" width="4" height="24" fill="#118af2" stroke="none" stroke-width="1" rx="2"/>
<rect x="488.5" y="1749" width="4.2" height="12" fill="#fa0f55" stroke="none" stroke-width="1" rx="2.1"/>
<text x="78" y="1790.75" font-size="13" text-anchor="end" fill="#2a2a2a" >MoS</text>
<rect x="250.8" y="1773.95" width="4" height="24" fill="#118af2" stroke="none" stroke-width="1" rx="2"/>
<circle cx="273.4" cy="1785.95" r="2.05" fill="#3d5cb4" />
<rect x="321.7" y="1784.75" width="7.6" height="2.4" fill="#5a63c8" stroke="none" stroke-width="1" rx="1.2"/>
<circle cx="361" cy="1785.95" r="2.05" fill="#55456e" />
<circle cx="405.6" cy="1785.95" r="2.05" fill="#c01c56" />
<rect x="475.7" y="1779.65" width="4" height="12.6" fill="#fa0f55" stroke="none" stroke-width="1" rx="2"/>
<text x="78" y="1821.7" font-size="13" text-anchor="end" fill="#2a2a2a" >MuS</text>
<rect x="119.4" y="1810.4" width="4" height="13" fill="#118af2" stroke="none" stroke-width="1" rx="2"/>
<circle cx="193.6" cy="1816.9" r="2.05" fill="#3d5cb4" />
<circle cx="237.6" cy="1816.9" r="2.05" fill="#c01c56" />
<rect x="270.1" y="1815.7" width="7.4" height="2.4" fill="#c01c56" stroke="none" stroke-width="1" rx="1.2"/>
<circle cx="324.9" cy="1816.9" r="2.05" fill="#c01c56" />
<rect x="343.5" y="1804.9" width="4" height="24" fill="#fa0f55" stroke="none" stroke-width="1" rx="2"/>
<text x="78" y="1852.65" font-size="13" text-anchor="end" fill="#2a2a2a" >TuT</text>
<rect x="272.2" y="1840.85" width="4" height="14" fill="#fa0f55" stroke="none" stroke-width="1" rx="2"/>
<circle cx="309.6" cy="1847.85" r="1.5" fill="#118af2" />
<rect x="310.7" y="1835.85" width="4.2" height="24" fill="#118af2" stroke="none" stroke-width="1" rx="2.1"/>
<text x="78" y="1883.6" font-size="13" text-anchor="end" fill="#2a2a2a" >FuT</text>
<rect x="267.5" y="1874.3" width="4.2" height="9" fill="#fa0f55" stroke="none" stroke-width="1" rx="2.1"/>
<rect x="270" y="1877.8" width="8.3" height="2" fill="#c01c56" stroke="none" stroke-width="1" rx="1"/>
<circle cx="288.4" cy="1878.8" r="2.05" fill="#c01c56" />
<rect x="304.9" y="1866.8" width="4" height="24" fill="#118af2" stroke="none" stroke-width="1" rx="2"/>
<text x="78" y="1914.55" font-size="13" text-anchor="end" fill="#2a2a2a" >ExT</text>
<rect x="267" y="1906.25" width="4.4" height="7" fill="#fa0f55" stroke="none" stroke-width="1" rx="2.2"/>
<rect x="281.5" y="1908.55" width="7.9" height="2.4" fill="#7a3a90" stroke="none" stroke-width="1" rx="1.2"/>
<rect x="304.6" y="1897.75" width="4" height="24" fill="#118af2" stroke="none" stroke-width="1" rx="2"/>
<text x="78" y="1945.5" font-size="13" text-anchor="end" fill="#2a2a2a" >EnT</text>
<rect x="271.8" y="1936.7" width="5.2" height="8" fill="#fa0f55" stroke="none" stroke-width="1" rx="2.6"/>
<circle cx="292.7" cy="1940.7" r="2.05" fill="#3d5cb4" />
<circle cx="299.5" cy="1940.7" r="2.05" fill="#3d5cb4" />
<rect x="303.5" y="1928.7" width="4" height="24" fill="#118af2" stroke="none" stroke-width="1" rx="2"/>
<text x="78" y="1976.45" font-size="13" text-anchor="end" fill="#2a2a2a" >RrSCA</text>
<linearGradient id="sg8" gradientUnits="userSpaceOnUse" x1="288" y1="0" x2="302" y2="0"><stop offset="0" stop-color="#fa0f55"/><stop offset="0.5" stop-color="#8a3cc0"/><stop offset="1" stop-color="#118af2"/></linearGradient>
<polygon points="280.8,1969.93 283,1968.9 283.6,1964.77 285,1964.77 285.8,1967.52 292,1967.01 300,1966.49 306,1967.01 310,1968.21 313.7,1970.27 313.7,1973.03 310,1975.09 306,1976.29 300,1976.81 292,1976.29 285.8,1975.78 285,1978.53 283.6,1978.53 283,1974.4 280.8,1973.37" fill="url(#sg8)" stroke="url(#sg8)" stroke-width="0.8" stroke-linejoin="round"/>
<text x="78" y="2007.4" font-size="13" text-anchor="end" fill="#2a2a2a" >DO</text>
<rect x="293.7" y="1990.6" width="4" height="24" fill="#118af2" stroke="none" stroke-width="1" rx="2"/>
<rect x="297" y="2001.6" width="9" height="2" fill="#a2307a" stroke="none" stroke-width="1" rx="1"/>
<rect x="305.7" y="1996.8" width="5" height="11.6" fill="#fa0f55" stroke="none" stroke-width="1" rx="2.5"/>
<text x="78" y="2038.35" font-size="13" text-anchor="end" fill="#2a2a2a" >LaT</text>
<circle cx="276.3" cy="2033.55" r="2.3" fill="#fa0f55" />
<circle cx="289.2" cy="2033.55" r="1.5" fill="#c01c56" />
<rect x="299.3" y="2021.3" width="4.2" height="24.5" fill="#118af2" stroke="none" stroke-width="1" rx="2.1"/>
<text x="78" y="2069.3" font-size="13" text-anchor="end" fill="#2a2a2a" >RrSD</text>
<linearGradient id="sg9" gradientUnits="userSpaceOnUse" x1="295" y1="0" x2="304" y2="0"><stop offset="0" stop-color="#118af2"/><stop offset="0.5" stop-color="#8a3cc0"/><stop offset="1" stop-color="#fa0f55"/></linearGradient>
<polygon points="289.2,2062.78 291.5,2059.68 297.5,2059.17 298.8,2057.28 300.4,2057.28 301.5,2059.17 308,2059.68 311,2061.06 313,2062.78 313,2066.22 311,2067.94 308,2069.32 301.5,2069.83 300.4,2071.72 298.8,2071.72 297.5,2069.83 291.5,2069.32 289.2,2066.22" fill="url(#sg9)" stroke="url(#sg9)" stroke-width="0.8" stroke-linejoin="round"/>
<text x="78" y="2100.25" font-size="13" text-anchor="end" fill="#2a2a2a" >BMI</text>
<linearGradient id="sg10" gradientUnits="userSpaceOnUse" x1="296" y1="0" x2="304" y2="0"><stop offset="0" stop-color="#fa0f55"/><stop offset="0.5" stop-color="#8a3cc0"/><stop offset="1" stop-color="#118af2"/></linearGradient>
<polygon points="289.8,2092.87 292,2089.6 298,2089.43 301,2088.23 303,2088.23 305,2089.6 307,2090.98 309.1,2093.21 309.1,2097.69 307,2099.92 305,2101.3 303,2102.67 301,2102.67 298,2101.47 292,2101.3 289.8,2098.03" fill="url(#sg10)" stroke="url(#sg10)" stroke-width="0.8" stroke-linejoin="round"/>
<text x="78" y="2131.2" font-size="13" text-anchor="end" fill="#2a2a2a" >OT</text>
<linearGradient id="sg11" gradientUnits="userSpaceOnUse" x1="294" y1="0" x2="302" y2="0"><stop offset="0" stop-color="#118af2"/><stop offset="0.5" stop-color="#8a3cc0"/><stop offset="1" stop-color="#fa0f55"/></linearGradient>
<polygon points="289.8,2123.82 292,2121.07 296,2120.38 299.8,2117.8 301.8,2117.8 304,2120.04 307,2122.79 310,2123.99 312.4,2124.51 312.4,2128.29 310,2128.81 307,2130.01 304,2132.76 301.8,2135 299.8,2135 296,2132.42 292,2131.73 289.8,2128.98" fill="url(#sg11)" stroke="url(#sg11)" stroke-width="0.8" stroke-linejoin="round"/>
<text x="78" y="2162.15" font-size="13" text-anchor="end" fill="#2a2a2a" >RrPD</text>
<linearGradient id="sg12" gradientUnits="userSpaceOnUse" x1="295" y1="0" x2="302" y2="0"><stop offset="0" stop-color="#fa0f55"/><stop offset="0.5" stop-color="#8a3cc0"/><stop offset="1" stop-color="#118af2"/></linearGradient>
<polygon points="286,2155.97 289,2154.43 294,2153.91 299.6,2153.39 301,2147.55 303,2147.55 304.4,2152.19 307.2,2155.97 307.2,2158.73 304.4,2162.51 303,2167.15 301,2167.15 299.6,2161.31 294,2160.79 289,2160.27 286,2158.73" fill="url(#sg12)" stroke="url(#sg12)" stroke-width="0.8" stroke-linejoin="round"/>
<text x="78" y="2193.1" font-size="13" text-anchor="end" fill="#2a2a2a" >RrDCM</text>
<linearGradient id="sg13" gradientUnits="userSpaceOnUse" x1="294" y1="0" x2="302" y2="0"><stop offset="0" stop-color="#fa0f55"/><stop offset="0.5" stop-color="#8a3cc0"/><stop offset="1" stop-color="#118af2"/></linearGradient>
<polygon points="288.5,2186.58 290,2184.52 296,2184 299.4,2183.66 300.6,2180.56 302.4,2180.56 304,2182.8 306.6,2186.58 306.6,2190.02 304,2193.8 302.4,2196.04 300.6,2196.04 299.4,2192.94 296,2192.6 290,2192.08 288.5,2190.02" fill="url(#sg13)" stroke="url(#sg13)" stroke-width="0.8" stroke-linejoin="round"/>
<text x="78" y="2224.05" font-size="13" text-anchor="end" fill="#2a2a2a" >RrTAD</text>
<linearGradient id="sg14" gradientUnits="userSpaceOnUse" x1="295" y1="0" x2="302" y2="0"><stop offset="0" stop-color="#fa0f55"/><stop offset="0.5" stop-color="#8a3cc0"/><stop offset="1" stop-color="#118af2"/></linearGradient>
<rect x="291.8" y="2212.35" width="12.8" height="2.6" rx="1.3" fill="url(#sg14)"/>
<linearGradient id="sg15" gradientUnits="userSpaceOnUse" x1="295" y1="0" x2="302" y2="0"><stop offset="0" stop-color="#fa0f55"/><stop offset="0.5" stop-color="#8a3cc0"/><stop offset="1" stop-color="#118af2"/></linearGradient>
<rect x="287.2" y="2217.75" width="20.7" height="3" rx="1.5" fill="url(#sg15)"/>
<linearGradient id="sg16" gradientUnits="userSpaceOnUse" x1="295" y1="0" x2="302" y2="0"><stop offset="0" stop-color="#fa0f55"/><stop offset="0.5" stop-color="#8a3cc0"/><stop offset="1" stop-color="#118af2"/></linearGradient>
<rect x="293.7" y="2223.35" width="10.9" height="2.6" rx="1.3" fill="url(#sg16)"/>
<text x="78" y="2255" font-size="13" text-anchor="end" fill="#2a2a2a" >DH</text>
<rect x="292.9" y="2243.7" width="4.2" height="13" fill="#fa0f55" stroke="none" stroke-width="1" rx="2.1"/>
<rect x="296" y="2249.2" width="4" height="2" fill="#fa0f55" stroke="none" stroke-width="1" rx="1"/>
<rect x="299.2" y="2237.7" width="4.4" height="25" fill="#118af2" stroke="none" stroke-width="1" rx="2.2"/>
<text x="78" y="2285.95" font-size="13" text-anchor="end" fill="#2a2a2a" >Sex</text>
<rect x="294.6" y="2268.9" width="4.2" height="24.5" fill="#fa0f55" stroke="none" stroke-width="1" rx="2.1"/>
<rect x="300.2" y="2272.15" width="4.4" height="18" fill="#118af2" stroke="none" stroke-width="1" rx="2.2"/>
<line x1="103.5" y1="2312.3" x2="508.2" y2="2312.3" stroke="#777" stroke-width="1.3" />
<line x1="133.35" y1="2312.3" x2="133.35" y2="2315.8" stroke="#666" stroke-width="0.9" />
<text x="133.35" y="2326.9" font-size="10.6" text-anchor="middle" fill="#444" >−15</text>
<line x1="188.8" y1="2312.3" x2="188.8" y2="2315.8" stroke="#666" stroke-width="0.9" />
<text x="188.8" y="2326.9" font-size="10.6" text-anchor="middle" fill="#444" >−10</text>
<line x1="244.25" y1="2312.3" x2="244.25" y2="2315.8" stroke="#666" stroke-width="0.9" />
<text x="244.25" y="2326.9" font-size="10.6" text-anchor="middle" fill="#444" >−5</text>
<line x1="299.7" y1="2312.3" x2="299.7" y2="2315.8" stroke="#666" stroke-width="0.9" />
<text x="299.7" y="2326.9" font-size="10.6" text-anchor="middle" fill="#444" >0</text>
<line x1="355.15" y1="2312.3" x2="355.15" y2="2315.8" stroke="#666" stroke-width="0.9" />
<text x="355.15" y="2326.9" font-size="10.6" text-anchor="middle" fill="#444" >5</text>
<line x1="410.6" y1="2312.3" x2="410.6" y2="2315.8" stroke="#666" stroke-width="0.9" />
<text x="410.6" y="2326.9" font-size="10.6" text-anchor="middle" fill="#444" >10</text>
<line x1="466.05" y1="2312.3" x2="466.05" y2="2315.8" stroke="#666" stroke-width="0.9" />
<text x="466.05" y="2326.9" font-size="10.6" text-anchor="middle" fill="#444" >15</text>
<text x="306" y="2342.4" font-size="13.5" text-anchor="middle" fill="#383838" style="stroke:#333;stroke-width:.4px;stroke-opacity:.4">SHAP value (impact on model output)</text>
<rect x="534.3" y="1662.8" width="7.8" height="648.7" fill="url(#cb)" stroke="none" stroke-width="1" />
<text x="546.3" y="1667.2" font-size="10.8" text-anchor="start" fill="#333" >High</text>
<text x="546.3" y="2315.3" font-size="10.8" text-anchor="start" fill="#333" >Low</text>
<text x="0" y="0" font-size="12.06" text-anchor="middle" fill="#333" transform="translate(576.78 1987.15) rotate(-90)">Feature value</text>
</g>
</g><g filter="url(#cl)">
<g class="h h2">
<rect x="740.8" y="436.4" width="849.6" height="636.4" fill="#fff" stroke="none" stroke-width="1" />
<line x1="740.3" y1="436.4" x2="1590.9" y2="436.4" stroke="#e3e3e3" stroke-width="1" />
<line x1="740.3" y1="1072.8" x2="1590.9" y2="1072.8" stroke="#e5e5e5" stroke-width="1" />
<line x1="740.8" y1="436.4" x2="740.8" y2="1072.8" stroke="#dddddd" stroke-width="1" />
<line x1="1590.4" y1="436.4" x2="1590.4" y2="1072.8" stroke="#e5e5e5" stroke-width="1" />
<rect x="925.8" y="484.4" width="644.9" height="539.2" fill="#fff" stroke="#262626" stroke-width="1.5" />
<rect x="954.71" y="509.6" width="292.99" height="39.2" fill="#fe0000" stroke="none" stroke-width="1" />
<line x1="919.2" y1="529.7" x2="925.8" y2="529.7" stroke="#2a2a2a" stroke-width="1.5" />
<text x="912.2" y="535.8" font-size="18.4" text-anchor="end" fill="#1c1c1c" >MoS &lt;= 0.00</text>
<rect x="1247.7" y="559.57" width="292.58" height="39.2" fill="#018001" stroke="none" stroke-width="1" />
<line x1="919.2" y1="579.67" x2="925.8" y2="579.67" stroke="#2a2a2a" stroke-width="1.5" />
<text x="912.2" y="585.77" font-size="18.4" text-anchor="end" fill="#1c1c1c" >0.00 &lt; MuS &lt;= 1.00</text>
<rect x="1031.07" y="609.54" width="216.63" height="39.2" fill="#fe0000" stroke="none" stroke-width="1" />
<line x1="919.2" y1="629.64" x2="925.8" y2="629.64" stroke="#2a2a2a" stroke-width="1.5" />
<text x="912.2" y="635.74" font-size="18.4" text-anchor="end" fill="#1c1c1c" >DI-3 &lt;= 0.00</text>
<rect x="1049.33" y="659.51" width="198.37" height="39.2" fill="#fe0000" stroke="none" stroke-width="1" />
<line x1="919.2" y1="679.61" x2="925.8" y2="679.61" stroke="#2a2a2a" stroke-width="1.5" />
<text x="912.2" y="685.71" font-size="18.4" text-anchor="end" fill="#1c1c1c" >DI-2 &lt;= 0.00</text>
<rect x="1247.7" y="709.48" width="198.87" height="39.2" fill="#018001" stroke="none" stroke-width="1" />
<line x1="919.2" y1="729.58" x2="925.8" y2="729.58" stroke="#2a2a2a" stroke-width="1.5" />
<text x="912.2" y="735.68" font-size="18.4" text-anchor="end" fill="#1c1c1c" >0.00 &lt; DI-1 &lt;= 1.00</text>
<rect x="1247.7" y="759.45" width="30.46" height="39.2" fill="#018001" stroke="none" stroke-width="1" />
<line x1="919.2" y1="779.55" x2="925.8" y2="779.55" stroke="#2a2a2a" stroke-width="1.5" />
<text x="912.2" y="785.65" font-size="18.4" text-anchor="end" fill="#1c1c1c" >0.00 &lt; DO &lt;= 1.00</text>
<rect x="1228.03" y="809.42" width="19.67" height="39.2" fill="#fe0000" stroke="none" stroke-width="1" />
<line x1="919.2" y1="829.52" x2="925.8" y2="829.52" stroke="#2a2a2a" stroke-width="1.5" />
<text x="912.2" y="835.62" font-size="18.4" text-anchor="end" fill="#1c1c1c" >DOS &gt; 0.86</text>
<rect x="1247.7" y="859.39" width="20.75" height="39.2" fill="#018001" stroke="none" stroke-width="1" />
<line x1="919.2" y1="879.49" x2="925.8" y2="879.49" stroke="#2a2a2a" stroke-width="1.5" />
<text x="912.2" y="885.59" font-size="18.4" text-anchor="end" fill="#1c1c1c" >TuT &lt;= 0.00</text>
<rect x="1247.7" y="909.36" width="15.52" height="39.2" fill="#018001" stroke="none" stroke-width="1" />
<line x1="919.2" y1="929.46" x2="925.8" y2="929.46" stroke="#2a2a2a" stroke-width="1.5" />
<text x="912.2" y="935.56" font-size="18.4" text-anchor="end" fill="#1c1c1c" >EnT &lt;= 0.00</text>
<rect x="1247.7" y="959.33" width="14.36" height="39.2" fill="#018001" stroke="none" stroke-width="1" />
<line x1="919.2" y1="979.43" x2="925.8" y2="979.43" stroke="#2a2a2a" stroke-width="1.5" />
<text x="912.2" y="985.53" font-size="18.4" text-anchor="end" fill="#1c1c1c" >DH &lt;= 0.00</text>
<line x1="1000.8" y1="1023.6" x2="1000.8" y2="1030.2" stroke="#2a2a2a" stroke-width="1.5" />
<text x="1000.8" y="1050.5" font-size="18.4" text-anchor="middle" fill="#1c1c1c" >−0.3</text>
<line x1="1083.3" y1="1023.6" x2="1083.3" y2="1030.2" stroke="#2a2a2a" stroke-width="1.5" />
<text x="1083.3" y="1050.5" font-size="18.4" text-anchor="middle" fill="#1c1c1c" >−0.2</text>
<line x1="1165.8" y1="1023.6" x2="1165.8" y2="1030.2" stroke="#2a2a2a" stroke-width="1.5" />
<text x="1165.8" y="1050.5" font-size="18.4" text-anchor="middle" fill="#1c1c1c" >−0.1</text>
<line x1="1248.3" y1="1023.6" x2="1248.3" y2="1030.2" stroke="#2a2a2a" stroke-width="1.5" />
<text x="1248.3" y="1050.5" font-size="18.4" text-anchor="middle" fill="#1c1c1c" >0.0</text>
<line x1="1330.8" y1="1023.6" x2="1330.8" y2="1030.2" stroke="#2a2a2a" stroke-width="1.5" />
<text x="1330.8" y="1050.5" font-size="18.4" text-anchor="middle" fill="#1c1c1c" >0.1</text>
<line x1="1413.3" y1="1023.6" x2="1413.3" y2="1030.2" stroke="#2a2a2a" stroke-width="1.5" />
<text x="1413.3" y="1050.5" font-size="18.4" text-anchor="middle" fill="#1c1c1c" >0.2</text>
<line x1="1495.8" y1="1023.6" x2="1495.8" y2="1030.2" stroke="#2a2a2a" stroke-width="1.5" />
<text x="1495.8" y="1050.5" font-size="18.4" text-anchor="middle" fill="#1c1c1c" >0.3</text>
<text x="1247.2" y="473.2" font-size="22" text-anchor="middle" fill="#1c1c1c" >Local explanation for class Positive</text>
</g>
<g class="h h2">
<rect x="745.4" y="1682.7" width="849.2" height="633.5" fill="#fff" stroke="none" stroke-width="1" />
<line x1="744.9" y1="1682.7" x2="1595.1" y2="1682.7" stroke="#e3e3e3" stroke-width="1" />
<line x1="744.9" y1="2316.2" x2="1595.1" y2="2316.2" stroke="#e5e5e5" stroke-width="1" />
<line x1="745.4" y1="1682.7" x2="745.4" y2="2316.2" stroke="#cbcbcb" stroke-width="1" />
<line x1="1594.6" y1="1682.7" x2="1594.6" y2="2316.2" stroke="#e5e5e5" stroke-width="1" />
<rect x="929.3" y="1730.5" width="646.2" height="538.9" fill="#fff" stroke="#262626" stroke-width="1.5" />
<rect x="958.5" y="1755.7" width="325.6" height="39.2" fill="#fe0000" stroke="none" stroke-width="1" />
<line x1="922.7" y1="1775.8" x2="929.3" y2="1775.8" stroke="#2a2a2a" stroke-width="1.5" />
<text x="915.7" y="1781.9" font-size="18.4" text-anchor="end" fill="#1c1c1c" >MoS &lt;= 0.00</text>
<rect x="958.5" y="1805.67" width="325.6" height="39.2" fill="#fe0000" stroke="none" stroke-width="1" />
<line x1="922.7" y1="1825.77" x2="929.3" y2="1825.77" stroke="#2a2a2a" stroke-width="1.5" />
<text x="915.7" y="1831.87" font-size="18.4" text-anchor="end" fill="#1c1c1c" >DI-3 &lt;= 0.00</text>
<rect x="1023.62" y="1855.64" width="260.48" height="39.2" fill="#fe0000" stroke="none" stroke-width="1" />
<line x1="922.7" y1="1875.74" x2="929.3" y2="1875.74" stroke="#2a2a2a" stroke-width="1.5" />
<text x="915.7" y="1881.84" font-size="18.4" text-anchor="end" fill="#1c1c1c" >DI-1 &lt;= 0.00</text>
<rect x="1284.1" y="1905.61" width="260.48" height="39.2" fill="#018001" stroke="none" stroke-width="1" />
<line x1="922.7" y1="1925.71" x2="929.3" y2="1925.71" stroke="#2a2a2a" stroke-width="1.5" />
<text x="915.7" y="1931.81" font-size="18.4" text-anchor="end" fill="#1c1c1c" >0.00 &lt; DI-2 &lt;= 1.00</text>
<rect x="1284.1" y="1955.58" width="249.08" height="39.2" fill="#018001" stroke="none" stroke-width="1" />
<line x1="922.7" y1="1975.68" x2="929.3" y2="1975.68" stroke="#2a2a2a" stroke-width="1.5" />
<text x="915.7" y="1981.78" font-size="18.4" text-anchor="end" fill="#1c1c1c" >0.00 &lt; MuS &lt;= 1.00</text>
<rect x="1284.1" y="2005.55" width="50.14" height="39.2" fill="#018001" stroke="none" stroke-width="1" />
<line x1="922.7" y1="2025.65" x2="929.3" y2="2025.65" stroke="#2a2a2a" stroke-width="1.5" />
<text x="915.7" y="2031.75" font-size="18.4" text-anchor="end" fill="#1c1c1c" >TuT &lt;= 0.00</text>
<rect x="1241.12" y="2055.52" width="42.98" height="39.2" fill="#fe0000" stroke="none" stroke-width="1" />
<line x1="922.7" y1="2075.62" x2="929.3" y2="2075.62" stroke="#2a2a2a" stroke-width="1.5" />
<text x="915.7" y="2081.72" font-size="18.4" text-anchor="end" fill="#1c1c1c" >FuT &gt; 0.00</text>
<rect x="1284.1" y="2105.49" width="40.7" height="39.2" fill="#018001" stroke="none" stroke-width="1" />
<line x1="922.7" y1="2125.59" x2="929.3" y2="2125.59" stroke="#2a2a2a" stroke-width="1.5" />
<text x="915.7" y="2131.69" font-size="18.4" text-anchor="end" fill="#1c1c1c" >ExT &lt;= 0.00</text>
<rect x="1284.1" y="2155.46" width="27.43" height="39.2" fill="#018001" stroke="none" stroke-width="1" />
<line x1="922.7" y1="2175.56" x2="929.3" y2="2175.56" stroke="#2a2a2a" stroke-width="1.5" />
<text x="915.7" y="2181.66" font-size="18.4" text-anchor="end" fill="#1c1c1c" >EnT &lt;= 0.00</text>
<rect x="1258.87" y="2205.43" width="25.23" height="39.2" fill="#fe0000" stroke="none" stroke-width="1" />
<line x1="922.7" y1="2225.53" x2="929.3" y2="2225.53" stroke="#2a2a2a" stroke-width="1.5" />
<text x="915.7" y="2231.63" font-size="18.4" text-anchor="end" fill="#1c1c1c" >BMI &gt; 0.97</text>
<line x1="958.5" y1="2269.4" x2="958.5" y2="2276" stroke="#2a2a2a" stroke-width="1.5" />
<text x="958.5" y="2296.8" font-size="18.4" text-anchor="middle" fill="#1c1c1c" >−0.4</text>
<line x1="1040" y1="2269.4" x2="1040" y2="2276" stroke="#2a2a2a" stroke-width="1.5" />
<text x="1040" y="2296.8" font-size="18.4" text-anchor="middle" fill="#1c1c1c" >−0.3</text>
<line x1="1121.5" y1="2269.4" x2="1121.5" y2="2276" stroke="#2a2a2a" stroke-width="1.5" />
<text x="1121.5" y="2296.8" font-size="18.4" text-anchor="middle" fill="#1c1c1c" >−0.2</text>
<line x1="1203" y1="2269.4" x2="1203" y2="2276" stroke="#2a2a2a" stroke-width="1.5" />
<text x="1203" y="2296.8" font-size="18.4" text-anchor="middle" fill="#1c1c1c" >−0.1</text>
<line x1="1284.5" y1="2269.4" x2="1284.5" y2="2276" stroke="#2a2a2a" stroke-width="1.5" />
<text x="1284.5" y="2296.8" font-size="18.4" text-anchor="middle" fill="#1c1c1c" >0.0</text>
<line x1="1366" y1="2269.4" x2="1366" y2="2276" stroke="#2a2a2a" stroke-width="1.5" />
<text x="1366" y="2296.8" font-size="18.4" text-anchor="middle" fill="#1c1c1c" >0.1</text>
<line x1="1447.5" y1="2269.4" x2="1447.5" y2="2276" stroke="#2a2a2a" stroke-width="1.5" />
<text x="1447.5" y="2296.8" font-size="18.4" text-anchor="middle" fill="#1c1c1c" >0.2</text>
<line x1="1529" y1="2269.4" x2="1529" y2="2276" stroke="#2a2a2a" stroke-width="1.5" />
<text x="1529" y="2296.8" font-size="18.4" text-anchor="middle" fill="#1c1c1c" >0.3</text>
<text x="1251.3" y="1719.2" font-size="22" text-anchor="middle" fill="#1c1c1c" >Local explanation for class Positive</text>
</g>
<g class="">
<text x="3.9" y="38.3" font-size="52" text-anchor="start" fill="#000" font-weight="bold" >a</text>
<text x="608.8" y="39" font-size="50" text-anchor="start" fill="#000" font-weight="bold" >b</text>
<text x="1223.1" y="38.2" font-size="52" text-anchor="start" fill="#000" font-weight="bold" >c</text>
<text x="3.6" y="450.5" font-size="50" text-anchor="start" fill="#000" font-weight="bold" >d</text>
<text x="651.8" y="450.2" font-size="52" text-anchor="start" fill="#000" font-weight="bold" >e</text>
<text x="6.6" y="1167.3" font-size="50" text-anchor="start" fill="#000" font-weight="bold" >f</text>
<text x="609.2" y="1167.5" font-size="50" text-anchor="start" fill="#000" font-weight="bold" >g</text>
<text x="1223.9" y="1166.9" font-size="50" text-anchor="start" fill="#000" font-weight="bold" >h</text>
<text x="4.2" y="1676" font-size="50" text-anchor="start" fill="#000" font-weight="bold" >i</text>
<text x="651.8" y="1675.7" font-size="50" text-anchor="start" fill="#000" font-weight="bold" >j</text>
</g>
</g>
</svg>
</body></html>
